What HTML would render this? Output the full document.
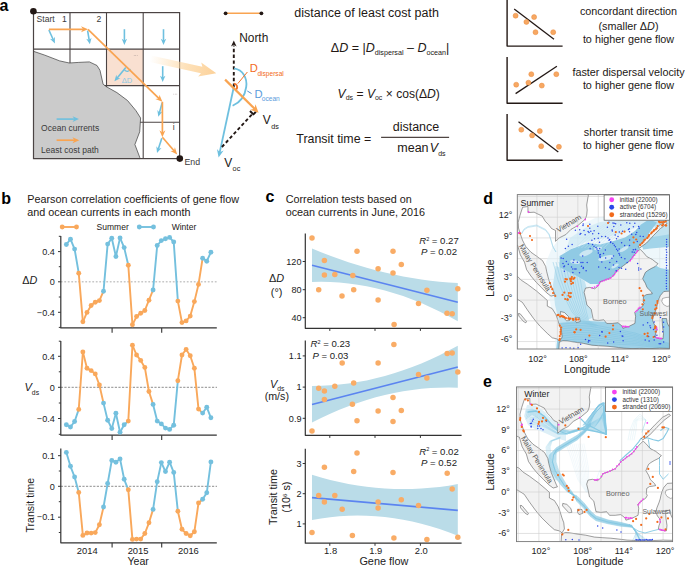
<!DOCTYPE html>
<html><head><meta charset="utf-8"><style>
html,body{margin:0;padding:0;background:#fff;width:685px;height:567px;overflow:hidden}
svg{display:block;font-family:"Liberation Sans", sans-serif}
</style></head><body>
<svg width="685" height="567" viewBox="0 0 685 567">
<text x="-0.60" y="10.60" font-size="16" font-weight="bold" fill="#000">a</text>
<rect x="106.5" y="49.1" width="36.69999999999999" height="36.49999999999999" fill="#F9E0D1"/>
<line x1="70.00" y1="12.60" x2="70.00" y2="158.60" stroke="#4B4444" stroke-width="1.1"/>
<line x1="106.50" y1="12.60" x2="106.50" y2="158.60" stroke="#4B4444" stroke-width="1.1"/>
<line x1="143.20" y1="12.60" x2="143.20" y2="158.60" stroke="#4B4444" stroke-width="1.1"/>
<line x1="33.50" y1="49.10" x2="179.60" y2="49.10" stroke="#4B4444" stroke-width="1.1"/>
<line x1="33.50" y1="85.60" x2="179.60" y2="85.60" stroke="#4B4444" stroke-width="1.1"/>
<line x1="33.50" y1="122.20" x2="179.60" y2="122.20" stroke="#4B4444" stroke-width="1.1"/>
<path d="M33.50,51.30 L44.90,55.20 L59.70,60.90 L69.30,63.00 L78.80,62.40 L89.40,61.90 L97.00,65.50 L100.00,70.40 L103.10,84.20 L106.70,86.90 L116.90,92.60 L127.50,100.50 L135.90,110.60 L140.60,118.00 L139.70,131.80 L134.90,144.50 L139.70,157.20 L140.00,158.60 L33.50,158.60 Z" fill="#CBCBCB" stroke="#3C3C3C" stroke-width="0.7"/>
<rect x="33.5" y="12.6" width="146.1" height="146.0" fill="none" stroke="#4B4444" stroke-width="1.2"/>
<circle cx="33.4" cy="11.2" r="3.3" fill="#231815"/>
<circle cx="179.8" cy="158.6" r="3.3" fill="#231815"/>
<text x="36.60" y="21.60" font-size="8.6" fill="#3a3a3a">Start</text>
<text x="61.90" y="21.60" font-size="8.6" fill="#3a3a3a">1</text>
<text x="96.60" y="21.60" font-size="8.6" fill="#3a3a3a">2</text>
<text x="172.70" y="130.40" font-size="8.6" fill="#3a3a3a">i</text>
<text x="184.40" y="164.60" font-size="8.8" fill="#3a3a3a">End</text>
<circle cx="134.2" cy="55.6" r="0.45" fill="#9a8a8a"/>
<circle cx="135.7" cy="55.6" r="0.45" fill="#9a8a8a"/>
<circle cx="137.2" cy="55.6" r="0.45" fill="#9a8a8a"/>
<circle cx="173.8" cy="94.1" r="0.45" fill="#9a8a8a"/>
<circle cx="175.3" cy="94.1" r="0.45" fill="#9a8a8a"/>
<circle cx="176.8" cy="94.1" r="0.45" fill="#9a8a8a"/>
<line x1="48.90" y1="30.00" x2="53.38" y2="40.00" stroke="#6EC0DF" stroke-width="1.6"/>
<path d="M54.90,43.40 L49.90,38.84 L53.13,39.44 L54.83,36.64 Z" fill="#6EC0DF" stroke="none" stroke-width="0"/>
<line x1="87.60" y1="30.60" x2="89.28" y2="40.63" stroke="#6EC0DF" stroke-width="1.6"/>
<path d="M89.90,44.30 L86.21,38.63 L89.18,40.02 L91.54,37.74 Z" fill="#6EC0DF" stroke="none" stroke-width="0"/>
<line x1="124.40" y1="29.20" x2="124.40" y2="41.18" stroke="#6EC0DF" stroke-width="1.6"/>
<path d="M124.40,44.90 L121.70,38.70 L124.40,40.56 L127.10,38.70 Z" fill="#6EC0DF" stroke="none" stroke-width="0"/>
<line x1="163.50" y1="29.20" x2="163.50" y2="41.18" stroke="#6EC0DF" stroke-width="1.6"/>
<path d="M163.50,44.90 L160.80,38.70 L163.50,40.56 L166.20,38.70 Z" fill="#6EC0DF" stroke="none" stroke-width="0"/>
<line x1="162.70" y1="66.20" x2="162.70" y2="78.18" stroke="#6EC0DF" stroke-width="1.6"/>
<path d="M162.70,81.90 L160.00,75.70 L162.70,77.56 L165.40,75.70 Z" fill="#6EC0DF" stroke="none" stroke-width="0"/>
<line x1="162.20" y1="102.60" x2="159.29" y2="113.21" stroke="#6EC0DF" stroke-width="1.6"/>
<path d="M158.30,116.80 L157.34,110.11 L159.45,112.61 L162.55,111.54 Z" fill="#6EC0DF" stroke="none" stroke-width="0"/>
<line x1="161.80" y1="138.20" x2="158.15" y2="149.46" stroke="#6EC0DF" stroke-width="1.6"/>
<path d="M157.00,153.00 L156.34,146.27 L158.34,148.87 L161.48,147.94 Z" fill="#6EC0DF" stroke="none" stroke-width="0"/>
<line x1="125.80" y1="67.60" x2="116.78" y2="78.44" stroke="#6EC0DF" stroke-width="1.6"/>
<path d="M114.40,81.30 L116.29,74.81 L117.18,77.96 L120.44,78.26 Z" fill="#6EC0DF" stroke="none" stroke-width="0"/>
<path d="M124.2,69.3 A3.2,3.2 0 0 0 130.3,68.8" fill="none" stroke="#6EC0DF" stroke-width="1.3"/>
<text x="121.80" y="83.30" font-size="7.6" fill="#8DC8E4">ΔD</text>
<line x1="48.90" y1="29.30" x2="83.80" y2="29.30" stroke="#F9A451" stroke-width="1.7"/>
<path d="M88.00,29.30 L81.00,32.30 L83.10,29.30 L81.00,26.30 Z" fill="#F9A451" stroke="none" stroke-width="0"/>
<line x1="88.00" y1="29.30" x2="159.39" y2="98.87" stroke="#F9A451" stroke-width="1.7"/>
<path d="M162.40,101.80 L155.29,99.06 L158.89,98.38 L159.48,94.77 Z" fill="#F9A451" stroke="none" stroke-width="0"/>
<line x1="162.40" y1="101.80" x2="162.40" y2="133.10" stroke="#F9A451" stroke-width="1.7"/>
<path d="M162.40,137.30 L159.40,130.30 L162.40,132.40 L165.40,130.30 Z" fill="#F9A451" stroke="none" stroke-width="0"/>
<line x1="162.40" y1="137.30" x2="174.45" y2="151.22" stroke="#F9A451" stroke-width="1.7"/>
<path d="M177.20,154.40 L170.35,151.07 L173.99,150.69 L174.89,147.14 Z" fill="#F9A451" stroke="none" stroke-width="0"/>
<line x1="56.60" y1="119.10" x2="75.10" y2="119.10" stroke="#6EC0DF" stroke-width="1.6"/>
<path d="M79.00,119.10 L72.50,121.90 L74.45,119.10 L72.50,116.30 Z" fill="#6EC0DF" stroke="none" stroke-width="0"/>
<line x1="56.60" y1="140.20" x2="75.20" y2="140.20" stroke="#F9A451" stroke-width="1.7"/>
<path d="M79.40,140.20 L72.40,143.20 L74.50,140.20 L72.40,137.20 Z" fill="#F9A451" stroke="none" stroke-width="0"/>
<text x="41.10" y="130.70" font-size="8.5" fill="#3a3a3a">Ocean currents</text>
<text x="41.10" y="152.50" font-size="8.5" fill="#3a3a3a">Least cost path</text>
<defs><linearGradient id="fat" x1="150" y1="58.8" x2="216" y2="73.2" gradientUnits="userSpaceOnUse"><stop offset="0" stop-color="#FDD7A2" stop-opacity="0"/><stop offset="0.55" stop-color="#FDD7A2" stop-opacity="0.75"/><stop offset="1" stop-color="#FCD199" stop-opacity="1"/></linearGradient></defs>
<path d="M149.79,62.02 L200.94,73.22 L198.15,76.60 L216.30,73.20 L201.23,62.53 L202.35,66.77 L151.21,55.58 Z" fill="url(#fat)" stroke="none" stroke-width="0"/>
<line x1="225.60" y1="13.30" x2="261.40" y2="13.30" stroke="#F9A451" stroke-width="1.5"/>
<circle cx="225.6" cy="13.3" r="1.9" fill="#231815"/><circle cx="261.4" cy="13.3" r="1.9" fill="#231815"/>
<line x1="233.80" y1="87.00" x2="233.80" y2="45.50" stroke="#231815" stroke-width="1.9" stroke-dasharray="3.4,2.4"/>
<path d="M233.80,40.60 L236.60,46.60 L233.80,44.80 L231.00,46.60 Z" fill="#231815" stroke="none" stroke-width="0"/>
<text x="239.20" y="41.90" font-size="11.9" fill="#231815">North</text>
<path d="M234.1,68.4 C243,70 247.5,78 246.2,87 C245,96 240,102.5 232.6,105.8" fill="none" stroke="#6EC0DF" stroke-width="1.8"/>
<line x1="233.80" y1="87.00" x2="219.61" y2="152.91" stroke="#6EC0DF" stroke-width="1.8"/>
<path d="M218.60,157.60 L216.96,149.06 L219.78,152.13 L223.61,150.49 Z" fill="#6EC0DF" stroke="none" stroke-width="0"/>
<line x1="221.90" y1="147.00" x2="252.30" y2="114.10" stroke="#231815" stroke-width="1.9" stroke-dasharray="3.4,2.4"/>
<path d="M250.00,111.00 L253.40,114.40 L255.90,111.80" fill="none" stroke="#231815" stroke-width="2.0" stroke-linejoin="round"/>
<line x1="225.10" y1="79.60" x2="255.11" y2="109.34" stroke="#F9A451" stroke-width="2.2"/>
<path d="M258.60,112.80 L250.10,109.73 L254.52,108.76 L255.45,104.33 Z" fill="#F9A451" stroke="none" stroke-width="0"/>
<path d="M233.9,83.6 A3.5,3.5 0 0 1 236.3,89.4" fill="none" stroke="#F0742A" stroke-width="1.9"/>
<line x1="237.80" y1="83.60" x2="247.40" y2="72.00" stroke="#F0742A" stroke-width="1.0"/>
<line x1="247.30" y1="91.00" x2="251.60" y2="93.60" stroke="#4D8FD4" stroke-width="1.0"/>
<text x="249.70" y="72.00" font-size="11.2" fill="#F26B22">D</text>
<text x="257.40" y="76.00" font-size="6.6" fill="#F26B22">dispersal</text>
<text x="254.50" y="97.50" font-size="11.2" fill="#5A9BDC">D</text>
<text x="261.80" y="101.40" font-size="6.6" fill="#5A9BDC">ocean</text>
<text x="262.80" y="123.90" font-size="12" fill="#231815">V</text>
<text x="271.20" y="128.50" font-size="7.2" fill="#231815">ds</text>
<text x="224.20" y="166.80" font-size="12" fill="#231815">V</text>
<text x="232.60" y="171.40" font-size="7.3" fill="#231815">oc</text>
<text x="294.30" y="17.40" font-size="12.5" fill="#231815">distance of least cost path</text>
<text x="330.8" y="52" font-size="12.5" fill="#231815">Δ<tspan font-style="italic">D</tspan><tspan> = |</tspan><tspan font-style="italic">D</tspan><tspan font-size="7.2" dy="2.6">dispersal</tspan><tspan dy="-2.6"> – </tspan><tspan font-style="italic">D</tspan><tspan font-size="7.2" dy="2.6">ocean</tspan><tspan dy="-2.6">|</tspan></text>
<text x="337.6" y="97.6" font-size="12.1" fill="#231815"><tspan font-style="italic">V</tspan><tspan font-size="7.0" dy="2.6">ds</tspan><tspan dy="-2.6"> = </tspan><tspan font-style="italic">V</tspan><tspan font-size="7.0" dy="2.6">oc</tspan><tspan dy="-2.6"> × cos(Δ</tspan><tspan font-style="italic">D</tspan><tspan>)</tspan></text>
<text x="296.30" y="143.30" font-size="12.4" fill="#231815">Transit time =</text>
<line x1="381.10" y1="137.30" x2="449.10" y2="137.30" stroke="#231815" stroke-width="1.0"/>
<text x="392.70" y="131.00" font-size="12.5" fill="#231815">distance</text>
<text x="397.3" y="152.3" font-size="12.5" fill="#231815">mean<tspan font-style="italic" dx="1.2">V</tspan><tspan font-size="7.0" dy="3.4">ds</tspan></text>
<path d="M507.10,0.00 L507.10,46.10 L562.60,46.10" fill="none" stroke="#231815" stroke-width="1.4" stroke-linejoin="round"/>
<line x1="514.20" y1="9.10" x2="554.00" y2="39.30" stroke="#231815" stroke-width="1.3"/>
<circle cx="515.6" cy="15.7" r="2.5" fill="#F7A863" stroke="#E98A3E" stroke-width="0.5"/>
<circle cx="526.4" cy="21.9" r="2.5" fill="#F7A863" stroke="#E98A3E" stroke-width="0.5"/>
<circle cx="534.1" cy="17.1" r="2.5" fill="#F7A863" stroke="#E98A3E" stroke-width="0.5"/>
<circle cx="535.5" cy="32.2" r="2.5" fill="#F7A863" stroke="#E98A3E" stroke-width="0.5"/>
<circle cx="553.2" cy="32.2" r="2.5" fill="#F7A863" stroke="#E98A3E" stroke-width="0.5"/>
<text x="628.50" y="15.20" font-size="10.8" text-anchor="middle" fill="#231815">concordant direction</text>
<text x="628.50" y="30.20" font-size="10.8" text-anchor="middle" fill="#231815">(smaller Δ<tspan font-style="italic">D</tspan>)</text>
<text x="628.50" y="43.10" font-size="10.8" text-anchor="middle" fill="#231815">to higher gene flow</text>
<path d="M507.10,57.10 L507.10,103.20 L562.60,103.20" fill="none" stroke="#231815" stroke-width="1.4" stroke-linejoin="round"/>
<line x1="515.60" y1="93.60" x2="556.90" y2="66.20" stroke="#231815" stroke-width="1.3"/>
<circle cx="516.2" cy="84.7" r="2.5" fill="#F7A863" stroke="#E98A3E" stroke-width="0.5"/>
<circle cx="528.4" cy="82.7" r="2.5" fill="#F7A863" stroke="#E98A3E" stroke-width="0.5"/>
<circle cx="531.3" cy="74.2" r="2.5" fill="#F7A863" stroke="#E98A3E" stroke-width="0.5"/>
<circle cx="541.8" cy="85.6" r="2.5" fill="#F7A863" stroke="#E98A3E" stroke-width="0.5"/>
<circle cx="556.3" cy="74.2" r="2.5" fill="#F7A863" stroke="#E98A3E" stroke-width="0.5"/>
<text x="628.50" y="76.00" font-size="10.8" text-anchor="middle" fill="#231815">faster dispersal velocity</text>
<text x="628.50" y="89.10" font-size="10.8" text-anchor="middle" fill="#231815">to higher gene flow</text>
<path d="M507.10,114.00 L507.10,160.20 L562.60,160.20" fill="none" stroke="#231815" stroke-width="1.4" stroke-linejoin="round"/>
<line x1="518.50" y1="121.70" x2="558.30" y2="151.90" stroke="#231815" stroke-width="1.3"/>
<circle cx="521.3" cy="129.7" r="2.5" fill="#F7A863" stroke="#E98A3E" stroke-width="0.5"/>
<circle cx="532.1" cy="135.4" r="2.5" fill="#F7A863" stroke="#E98A3E" stroke-width="0.5"/>
<circle cx="539.8" cy="131.1" r="2.5" fill="#F7A863" stroke="#E98A3E" stroke-width="0.5"/>
<circle cx="541.2" cy="146.2" r="2.5" fill="#F7A863" stroke="#E98A3E" stroke-width="0.5"/>
<circle cx="558.9" cy="146.8" r="2.5" fill="#F7A863" stroke="#E98A3E" stroke-width="0.5"/>
<text x="628.50" y="135.70" font-size="10.8" text-anchor="middle" fill="#231815">shorter transit time</text>
<text x="628.50" y="148.60" font-size="10.8" text-anchor="middle" fill="#231815">to higher gene flow</text>
<text x="1.20" y="203.60" font-size="16" font-weight="bold" fill="#000">b</text>
<text x="27.30" y="203.00" font-size="10.8" fill="#231815">Pearson correlation coefficients of gene flow</text>
<text x="27.30" y="215.60" font-size="10.8" fill="#231815">and ocean currents in each month</text>
<line x1="62.20" y1="227.00" x2="76.50" y2="227.00" stroke="#F9A85B" stroke-width="1.9"/>
<circle cx="62.2" cy="227" r="2.45" fill="#F9A85B"/><circle cx="76.5" cy="227" r="2.45" fill="#F9A85B"/>
<text x="96.60" y="229.90" font-size="8.5" fill="#231815">Summer</text>
<line x1="139.30" y1="227.00" x2="153.50" y2="227.00" stroke="#74C0DE" stroke-width="1.9"/>
<circle cx="139.3" cy="227" r="2.45" fill="#74C0DE"/><circle cx="153.5" cy="227" r="2.45" fill="#74C0DE"/>
<text x="171.70" y="230.00" font-size="8.5" fill="#231815">Winter</text>
<line x1="60.80" y1="281.80" x2="217.00" y2="281.80" stroke="#C8C8C8" stroke-width="1.5" stroke-dasharray="1.8,1.7"/>
<path d="M60.80,236.00 L60.80,327.90 L216.80,327.90" fill="none" stroke="#333" stroke-width="1.2" stroke-linejoin="round"/>
<line x1="58.00" y1="251.60" x2="60.80" y2="251.60" stroke="#333" stroke-width="1.0"/>
<line x1="58.00" y1="281.80" x2="60.80" y2="281.80" stroke="#333" stroke-width="1.0"/>
<line x1="58.00" y1="312.30" x2="60.80" y2="312.30" stroke="#333" stroke-width="1.0"/>
<line x1="58.80" y1="236.30" x2="60.80" y2="236.30" stroke="#333" stroke-width="1.0"/>
<line x1="58.80" y1="266.70" x2="60.80" y2="266.70" stroke="#333" stroke-width="1.0"/>
<line x1="58.80" y1="297.00" x2="60.80" y2="297.00" stroke="#333" stroke-width="1.0"/>
<line x1="58.80" y1="327.40" x2="60.80" y2="327.40" stroke="#333" stroke-width="1.0"/>
<line x1="112.10" y1="327.90" x2="112.10" y2="332.70" stroke="#333" stroke-width="1.1"/>
<line x1="161.70" y1="327.90" x2="161.70" y2="332.70" stroke="#333" stroke-width="1.1"/>
<text x="54.80" y="254.80" font-size="9.1" text-anchor="end" fill="#222">0.4</text>
<text x="54.80" y="285.00" font-size="9.1" text-anchor="end" fill="#222">0</text>
<text x="54.80" y="315.50" font-size="9.1" text-anchor="end" fill="#222">−0.4</text>
<line x1="66.35" y1="244.50" x2="70.48" y2="239.20" stroke="#74C0DE" stroke-width="1.9" stroke-linecap="round"/>
<line x1="70.48" y1="239.20" x2="74.61" y2="249.10" stroke="#74C0DE" stroke-width="1.9" stroke-linecap="round"/>
<line x1="74.61" y1="249.10" x2="78.74" y2="273.20" stroke="#74C0DE" stroke-width="1.9" stroke-linecap="round"/>
<line x1="78.74" y1="273.20" x2="82.87" y2="321.80" stroke="#F9A85B" stroke-width="1.9" stroke-linecap="round"/>
<line x1="82.87" y1="321.80" x2="87.00" y2="312.40" stroke="#F9A85B" stroke-width="1.9" stroke-linecap="round"/>
<line x1="87.00" y1="312.40" x2="91.13" y2="305.50" stroke="#F9A85B" stroke-width="1.9" stroke-linecap="round"/>
<line x1="91.13" y1="305.50" x2="95.26" y2="302.30" stroke="#F9A85B" stroke-width="1.9" stroke-linecap="round"/>
<line x1="95.26" y1="302.30" x2="99.39" y2="300.60" stroke="#F9A85B" stroke-width="1.9" stroke-linecap="round"/>
<line x1="99.39" y1="300.60" x2="103.52" y2="291.20" stroke="#F9A85B" stroke-width="1.9" stroke-linecap="round"/>
<line x1="103.52" y1="291.20" x2="107.65" y2="244.10" stroke="#74C0DE" stroke-width="1.9" stroke-linecap="round"/>
<line x1="107.65" y1="244.10" x2="111.78" y2="238.30" stroke="#74C0DE" stroke-width="1.9" stroke-linecap="round"/>
<line x1="111.78" y1="238.30" x2="115.91" y2="256.50" stroke="#74C0DE" stroke-width="1.9" stroke-linecap="round"/>
<line x1="115.91" y1="256.50" x2="120.04" y2="237.90" stroke="#74C0DE" stroke-width="1.9" stroke-linecap="round"/>
<line x1="120.04" y1="237.90" x2="124.17" y2="247.60" stroke="#74C0DE" stroke-width="1.9" stroke-linecap="round"/>
<line x1="124.17" y1="247.60" x2="128.30" y2="265.30" stroke="#74C0DE" stroke-width="1.9" stroke-linecap="round"/>
<line x1="128.30" y1="265.30" x2="132.43" y2="324.80" stroke="#F9A85B" stroke-width="1.9" stroke-linecap="round"/>
<line x1="132.43" y1="324.80" x2="136.56" y2="316.50" stroke="#F9A85B" stroke-width="1.9" stroke-linecap="round"/>
<line x1="136.56" y1="316.50" x2="140.69" y2="313.30" stroke="#F9A85B" stroke-width="1.9" stroke-linecap="round"/>
<line x1="140.69" y1="313.30" x2="144.82" y2="310.50" stroke="#F9A85B" stroke-width="1.9" stroke-linecap="round"/>
<line x1="144.82" y1="310.50" x2="148.95" y2="300.20" stroke="#F9A85B" stroke-width="1.9" stroke-linecap="round"/>
<line x1="148.95" y1="300.20" x2="153.08" y2="290.00" stroke="#F9A85B" stroke-width="1.9" stroke-linecap="round"/>
<line x1="153.08" y1="290.00" x2="157.21" y2="245.50" stroke="#74C0DE" stroke-width="1.9" stroke-linecap="round"/>
<line x1="157.21" y1="245.50" x2="161.34" y2="240.60" stroke="#74C0DE" stroke-width="1.9" stroke-linecap="round"/>
<line x1="161.34" y1="240.60" x2="165.47" y2="238.80" stroke="#74C0DE" stroke-width="1.9" stroke-linecap="round"/>
<line x1="165.47" y1="238.80" x2="169.60" y2="237.40" stroke="#74C0DE" stroke-width="1.9" stroke-linecap="round"/>
<line x1="169.60" y1="237.40" x2="173.73" y2="242.00" stroke="#74C0DE" stroke-width="1.9" stroke-linecap="round"/>
<line x1="173.73" y1="242.00" x2="177.86" y2="301.10" stroke="#74C0DE" stroke-width="1.9" stroke-linecap="round"/>
<line x1="177.86" y1="301.10" x2="181.99" y2="322.60" stroke="#F9A85B" stroke-width="1.9" stroke-linecap="round"/>
<line x1="181.99" y1="322.60" x2="186.12" y2="320.90" stroke="#F9A85B" stroke-width="1.9" stroke-linecap="round"/>
<line x1="186.12" y1="320.90" x2="190.25" y2="316.10" stroke="#F9A85B" stroke-width="1.9" stroke-linecap="round"/>
<line x1="190.25" y1="316.10" x2="194.38" y2="301.60" stroke="#F9A85B" stroke-width="1.9" stroke-linecap="round"/>
<line x1="194.38" y1="301.60" x2="198.51" y2="284.40" stroke="#F9A85B" stroke-width="1.9" stroke-linecap="round"/>
<line x1="198.51" y1="284.40" x2="202.64" y2="258.20" stroke="#F9A85B" stroke-width="1.9" stroke-linecap="round"/>
<line x1="202.64" y1="258.20" x2="206.77" y2="261.20" stroke="#74C0DE" stroke-width="1.9" stroke-linecap="round"/>
<line x1="206.77" y1="261.20" x2="210.90" y2="252.20" stroke="#74C0DE" stroke-width="1.9" stroke-linecap="round"/>
<circle cx="66.35" cy="244.50" r="2.45" fill="#74C0DE"/>
<circle cx="70.48" cy="239.20" r="2.45" fill="#74C0DE"/>
<circle cx="74.61" cy="249.10" r="2.45" fill="#74C0DE"/>
<circle cx="78.74" cy="273.20" r="2.45" fill="#F9A85B"/>
<circle cx="82.87" cy="321.80" r="2.45" fill="#F9A85B"/>
<circle cx="87.00" cy="312.40" r="2.45" fill="#F9A85B"/>
<circle cx="91.13" cy="305.50" r="2.45" fill="#F9A85B"/>
<circle cx="95.26" cy="302.30" r="2.45" fill="#F9A85B"/>
<circle cx="99.39" cy="300.60" r="2.45" fill="#F9A85B"/>
<circle cx="103.52" cy="291.20" r="2.45" fill="#74C0DE"/>
<circle cx="107.65" cy="244.10" r="2.45" fill="#74C0DE"/>
<circle cx="111.78" cy="238.30" r="2.45" fill="#74C0DE"/>
<circle cx="115.91" cy="256.50" r="2.45" fill="#74C0DE"/>
<circle cx="120.04" cy="237.90" r="2.45" fill="#74C0DE"/>
<circle cx="124.17" cy="247.60" r="2.45" fill="#74C0DE"/>
<circle cx="128.30" cy="265.30" r="2.45" fill="#F9A85B"/>
<circle cx="132.43" cy="324.80" r="2.45" fill="#F9A85B"/>
<circle cx="136.56" cy="316.50" r="2.45" fill="#F9A85B"/>
<circle cx="140.69" cy="313.30" r="2.45" fill="#F9A85B"/>
<circle cx="144.82" cy="310.50" r="2.45" fill="#F9A85B"/>
<circle cx="148.95" cy="300.20" r="2.45" fill="#F9A85B"/>
<circle cx="153.08" cy="290.00" r="2.45" fill="#74C0DE"/>
<circle cx="157.21" cy="245.50" r="2.45" fill="#74C0DE"/>
<circle cx="161.34" cy="240.60" r="2.45" fill="#74C0DE"/>
<circle cx="165.47" cy="238.80" r="2.45" fill="#74C0DE"/>
<circle cx="169.60" cy="237.40" r="2.45" fill="#74C0DE"/>
<circle cx="173.73" cy="242.00" r="2.45" fill="#74C0DE"/>
<circle cx="177.86" cy="301.10" r="2.45" fill="#F9A85B"/>
<circle cx="181.99" cy="322.60" r="2.45" fill="#F9A85B"/>
<circle cx="186.12" cy="320.90" r="2.45" fill="#F9A85B"/>
<circle cx="190.25" cy="316.10" r="2.45" fill="#F9A85B"/>
<circle cx="194.38" cy="301.60" r="2.45" fill="#F9A85B"/>
<circle cx="198.51" cy="284.40" r="2.45" fill="#F9A85B"/>
<circle cx="202.64" cy="258.20" r="2.45" fill="#74C0DE"/>
<circle cx="206.77" cy="261.20" r="2.45" fill="#74C0DE"/>
<circle cx="210.90" cy="252.20" r="2.45" fill="#74C0DE"/>
<text x="22.2" y="284.3" font-size="10.8" fill="#222">Δ<tspan font-style="italic">D</tspan></text>
<line x1="60.80" y1="387.30" x2="217.00" y2="387.30" stroke="#707070" stroke-width="0.8" stroke-dasharray="2.2,1.4"/>
<path d="M60.80,341.00 L60.80,435.20 L216.80,435.20" fill="none" stroke="#333" stroke-width="1.2" stroke-linejoin="round"/>
<line x1="58.00" y1="356.30" x2="60.80" y2="356.30" stroke="#333" stroke-width="1.0"/>
<line x1="58.00" y1="387.30" x2="60.80" y2="387.30" stroke="#333" stroke-width="1.0"/>
<line x1="58.00" y1="418.50" x2="60.80" y2="418.50" stroke="#333" stroke-width="1.0"/>
<line x1="58.80" y1="341.20" x2="60.80" y2="341.20" stroke="#333" stroke-width="1.0"/>
<line x1="58.80" y1="371.80" x2="60.80" y2="371.80" stroke="#333" stroke-width="1.0"/>
<line x1="58.80" y1="403.00" x2="60.80" y2="403.00" stroke="#333" stroke-width="1.0"/>
<line x1="58.80" y1="434.30" x2="60.80" y2="434.30" stroke="#333" stroke-width="1.0"/>
<line x1="112.10" y1="435.20" x2="112.10" y2="440.00" stroke="#333" stroke-width="1.1"/>
<line x1="161.70" y1="435.20" x2="161.70" y2="440.00" stroke="#333" stroke-width="1.1"/>
<text x="54.80" y="359.50" font-size="9.1" text-anchor="end" fill="#222">0.4</text>
<text x="54.80" y="390.50" font-size="9.1" text-anchor="end" fill="#222">0</text>
<text x="54.80" y="421.70" font-size="9.1" text-anchor="end" fill="#222">−0.4</text>
<line x1="66.35" y1="424.80" x2="70.48" y2="427.00" stroke="#74C0DE" stroke-width="1.9" stroke-linecap="round"/>
<line x1="70.48" y1="427.00" x2="74.61" y2="421.50" stroke="#74C0DE" stroke-width="1.9" stroke-linecap="round"/>
<line x1="74.61" y1="421.50" x2="78.74" y2="409.40" stroke="#74C0DE" stroke-width="1.9" stroke-linecap="round"/>
<line x1="78.74" y1="409.40" x2="82.87" y2="352.00" stroke="#F9A85B" stroke-width="1.9" stroke-linecap="round"/>
<line x1="82.87" y1="352.00" x2="87.00" y2="368.30" stroke="#F9A85B" stroke-width="1.9" stroke-linecap="round"/>
<line x1="87.00" y1="368.30" x2="91.13" y2="370.60" stroke="#F9A85B" stroke-width="1.9" stroke-linecap="round"/>
<line x1="91.13" y1="370.60" x2="95.26" y2="373.90" stroke="#F9A85B" stroke-width="1.9" stroke-linecap="round"/>
<line x1="95.26" y1="373.90" x2="99.39" y2="385.00" stroke="#F9A85B" stroke-width="1.9" stroke-linecap="round"/>
<line x1="99.39" y1="385.00" x2="103.52" y2="403.10" stroke="#F9A85B" stroke-width="1.9" stroke-linecap="round"/>
<line x1="103.52" y1="403.10" x2="107.65" y2="420.20" stroke="#74C0DE" stroke-width="1.9" stroke-linecap="round"/>
<line x1="107.65" y1="420.20" x2="111.78" y2="428.50" stroke="#74C0DE" stroke-width="1.9" stroke-linecap="round"/>
<line x1="111.78" y1="428.50" x2="115.91" y2="413.30" stroke="#74C0DE" stroke-width="1.9" stroke-linecap="round"/>
<line x1="115.91" y1="413.30" x2="120.04" y2="432.20" stroke="#74C0DE" stroke-width="1.9" stroke-linecap="round"/>
<line x1="120.04" y1="432.20" x2="124.17" y2="424.80" stroke="#74C0DE" stroke-width="1.9" stroke-linecap="round"/>
<line x1="124.17" y1="424.80" x2="128.30" y2="421.10" stroke="#74C0DE" stroke-width="1.9" stroke-linecap="round"/>
<line x1="128.30" y1="421.10" x2="132.43" y2="345.20" stroke="#F9A85B" stroke-width="1.9" stroke-linecap="round"/>
<line x1="132.43" y1="345.20" x2="136.56" y2="355.00" stroke="#F9A85B" stroke-width="1.9" stroke-linecap="round"/>
<line x1="136.56" y1="355.00" x2="140.69" y2="360.40" stroke="#F9A85B" stroke-width="1.9" stroke-linecap="round"/>
<line x1="140.69" y1="360.40" x2="144.82" y2="367.40" stroke="#F9A85B" stroke-width="1.9" stroke-linecap="round"/>
<line x1="144.82" y1="367.40" x2="148.95" y2="391.50" stroke="#F9A85B" stroke-width="1.9" stroke-linecap="round"/>
<line x1="148.95" y1="391.50" x2="153.08" y2="404.40" stroke="#F9A85B" stroke-width="1.9" stroke-linecap="round"/>
<line x1="153.08" y1="404.40" x2="157.21" y2="421.10" stroke="#74C0DE" stroke-width="1.9" stroke-linecap="round"/>
<line x1="157.21" y1="421.10" x2="161.34" y2="423.90" stroke="#74C0DE" stroke-width="1.9" stroke-linecap="round"/>
<line x1="161.34" y1="423.90" x2="165.47" y2="428.10" stroke="#74C0DE" stroke-width="1.9" stroke-linecap="round"/>
<line x1="165.47" y1="428.10" x2="169.60" y2="429.40" stroke="#74C0DE" stroke-width="1.9" stroke-linecap="round"/>
<line x1="169.60" y1="429.40" x2="173.73" y2="425.20" stroke="#74C0DE" stroke-width="1.9" stroke-linecap="round"/>
<line x1="173.73" y1="425.20" x2="177.86" y2="380.70" stroke="#74C0DE" stroke-width="1.9" stroke-linecap="round"/>
<line x1="177.86" y1="380.70" x2="181.99" y2="355.00" stroke="#F9A85B" stroke-width="1.9" stroke-linecap="round"/>
<line x1="181.99" y1="355.00" x2="186.12" y2="349.40" stroke="#F9A85B" stroke-width="1.9" stroke-linecap="round"/>
<line x1="186.12" y1="349.40" x2="190.25" y2="355.70" stroke="#F9A85B" stroke-width="1.9" stroke-linecap="round"/>
<line x1="190.25" y1="355.70" x2="194.38" y2="368.30" stroke="#F9A85B" stroke-width="1.9" stroke-linecap="round"/>
<line x1="194.38" y1="368.30" x2="198.51" y2="409.10" stroke="#F9A85B" stroke-width="1.9" stroke-linecap="round"/>
<line x1="198.51" y1="409.10" x2="202.64" y2="413.10" stroke="#F9A85B" stroke-width="1.9" stroke-linecap="round"/>
<line x1="202.64" y1="413.10" x2="206.77" y2="407.20" stroke="#74C0DE" stroke-width="1.9" stroke-linecap="round"/>
<line x1="206.77" y1="407.20" x2="210.90" y2="417.80" stroke="#74C0DE" stroke-width="1.9" stroke-linecap="round"/>
<circle cx="66.35" cy="424.80" r="2.45" fill="#74C0DE"/>
<circle cx="70.48" cy="427.00" r="2.45" fill="#74C0DE"/>
<circle cx="74.61" cy="421.50" r="2.45" fill="#74C0DE"/>
<circle cx="78.74" cy="409.40" r="2.45" fill="#F9A85B"/>
<circle cx="82.87" cy="352.00" r="2.45" fill="#F9A85B"/>
<circle cx="87.00" cy="368.30" r="2.45" fill="#F9A85B"/>
<circle cx="91.13" cy="370.60" r="2.45" fill="#F9A85B"/>
<circle cx="95.26" cy="373.90" r="2.45" fill="#F9A85B"/>
<circle cx="99.39" cy="385.00" r="2.45" fill="#F9A85B"/>
<circle cx="103.52" cy="403.10" r="2.45" fill="#74C0DE"/>
<circle cx="107.65" cy="420.20" r="2.45" fill="#74C0DE"/>
<circle cx="111.78" cy="428.50" r="2.45" fill="#74C0DE"/>
<circle cx="115.91" cy="413.30" r="2.45" fill="#74C0DE"/>
<circle cx="120.04" cy="432.20" r="2.45" fill="#74C0DE"/>
<circle cx="124.17" cy="424.80" r="2.45" fill="#74C0DE"/>
<circle cx="128.30" cy="421.10" r="2.45" fill="#F9A85B"/>
<circle cx="132.43" cy="345.20" r="2.45" fill="#F9A85B"/>
<circle cx="136.56" cy="355.00" r="2.45" fill="#F9A85B"/>
<circle cx="140.69" cy="360.40" r="2.45" fill="#F9A85B"/>
<circle cx="144.82" cy="367.40" r="2.45" fill="#F9A85B"/>
<circle cx="148.95" cy="391.50" r="2.45" fill="#F9A85B"/>
<circle cx="153.08" cy="404.40" r="2.45" fill="#74C0DE"/>
<circle cx="157.21" cy="421.10" r="2.45" fill="#74C0DE"/>
<circle cx="161.34" cy="423.90" r="2.45" fill="#74C0DE"/>
<circle cx="165.47" cy="428.10" r="2.45" fill="#74C0DE"/>
<circle cx="169.60" cy="429.40" r="2.45" fill="#74C0DE"/>
<circle cx="173.73" cy="425.20" r="2.45" fill="#74C0DE"/>
<circle cx="177.86" cy="380.70" r="2.45" fill="#F9A85B"/>
<circle cx="181.99" cy="355.00" r="2.45" fill="#F9A85B"/>
<circle cx="186.12" cy="349.40" r="2.45" fill="#F9A85B"/>
<circle cx="190.25" cy="355.70" r="2.45" fill="#F9A85B"/>
<circle cx="194.38" cy="368.30" r="2.45" fill="#F9A85B"/>
<circle cx="198.51" cy="409.10" r="2.45" fill="#F9A85B"/>
<circle cx="202.64" cy="413.10" r="2.45" fill="#74C0DE"/>
<circle cx="206.77" cy="407.20" r="2.45" fill="#74C0DE"/>
<circle cx="210.90" cy="417.80" r="2.45" fill="#74C0DE"/>
<text x="24.4" y="391.4" font-size="11.2" fill="#222"><tspan font-style="italic">V</tspan><tspan font-size="6.8" dy="3.7">ds</tspan></text>
<line x1="60.80" y1="486.30" x2="217.00" y2="486.30" stroke="#707070" stroke-width="0.8" stroke-dasharray="2.2,1.4"/>
<path d="M60.80,448.60 L60.80,542.80 L216.80,542.80" fill="none" stroke="#333" stroke-width="1.2" stroke-linejoin="round"/>
<line x1="58.00" y1="455.70" x2="60.80" y2="455.70" stroke="#333" stroke-width="1.0"/>
<line x1="58.00" y1="486.30" x2="60.80" y2="486.30" stroke="#333" stroke-width="1.0"/>
<line x1="58.00" y1="517.20" x2="60.80" y2="517.20" stroke="#333" stroke-width="1.0"/>
<line x1="58.80" y1="471.00" x2="60.80" y2="471.00" stroke="#333" stroke-width="1.0"/>
<line x1="58.80" y1="501.70" x2="60.80" y2="501.70" stroke="#333" stroke-width="1.0"/>
<line x1="58.80" y1="532.50" x2="60.80" y2="532.50" stroke="#333" stroke-width="1.0"/>
<line x1="112.10" y1="542.80" x2="112.10" y2="547.60" stroke="#333" stroke-width="1.1"/>
<line x1="161.70" y1="542.80" x2="161.70" y2="547.60" stroke="#333" stroke-width="1.1"/>
<text x="54.80" y="458.90" font-size="9.1" text-anchor="end" fill="#222">0.1</text>
<text x="54.80" y="489.50" font-size="9.1" text-anchor="end" fill="#222">0</text>
<text x="54.80" y="520.40" font-size="9.1" text-anchor="end" fill="#222">−0.1</text>
<line x1="66.35" y1="452.40" x2="70.48" y2="466.30" stroke="#74C0DE" stroke-width="1.9" stroke-linecap="round"/>
<line x1="70.48" y1="466.30" x2="74.61" y2="477.00" stroke="#74C0DE" stroke-width="1.9" stroke-linecap="round"/>
<line x1="74.61" y1="477.00" x2="78.74" y2="492.40" stroke="#74C0DE" stroke-width="1.9" stroke-linecap="round"/>
<line x1="78.74" y1="492.40" x2="82.87" y2="535.40" stroke="#F9A85B" stroke-width="1.9" stroke-linecap="round"/>
<line x1="82.87" y1="535.40" x2="87.00" y2="533.00" stroke="#F9A85B" stroke-width="1.9" stroke-linecap="round"/>
<line x1="87.00" y1="533.00" x2="91.13" y2="533.10" stroke="#F9A85B" stroke-width="1.9" stroke-linecap="round"/>
<line x1="91.13" y1="533.10" x2="95.26" y2="532.60" stroke="#F9A85B" stroke-width="1.9" stroke-linecap="round"/>
<line x1="95.26" y1="532.60" x2="99.39" y2="524.80" stroke="#F9A85B" stroke-width="1.9" stroke-linecap="round"/>
<line x1="99.39" y1="524.80" x2="103.52" y2="507.00" stroke="#F9A85B" stroke-width="1.9" stroke-linecap="round"/>
<line x1="103.52" y1="507.00" x2="107.65" y2="483.50" stroke="#74C0DE" stroke-width="1.9" stroke-linecap="round"/>
<line x1="107.65" y1="483.50" x2="111.78" y2="460.40" stroke="#74C0DE" stroke-width="1.9" stroke-linecap="round"/>
<line x1="111.78" y1="460.40" x2="115.91" y2="462.20" stroke="#74C0DE" stroke-width="1.9" stroke-linecap="round"/>
<line x1="115.91" y1="462.20" x2="120.04" y2="458.90" stroke="#74C0DE" stroke-width="1.9" stroke-linecap="round"/>
<line x1="120.04" y1="458.90" x2="124.17" y2="479.30" stroke="#74C0DE" stroke-width="1.9" stroke-linecap="round"/>
<line x1="124.17" y1="479.30" x2="128.30" y2="489.80" stroke="#74C0DE" stroke-width="1.9" stroke-linecap="round"/>
<line x1="128.30" y1="489.80" x2="132.43" y2="539.40" stroke="#F9A85B" stroke-width="1.9" stroke-linecap="round"/>
<line x1="132.43" y1="539.40" x2="136.56" y2="539.10" stroke="#F9A85B" stroke-width="1.9" stroke-linecap="round"/>
<line x1="136.56" y1="539.10" x2="140.69" y2="539.10" stroke="#F9A85B" stroke-width="1.9" stroke-linecap="round"/>
<line x1="140.69" y1="539.10" x2="144.82" y2="533.50" stroke="#F9A85B" stroke-width="1.9" stroke-linecap="round"/>
<line x1="144.82" y1="533.50" x2="148.95" y2="522.80" stroke="#F9A85B" stroke-width="1.9" stroke-linecap="round"/>
<line x1="148.95" y1="522.80" x2="153.08" y2="509.40" stroke="#F9A85B" stroke-width="1.9" stroke-linecap="round"/>
<line x1="153.08" y1="509.40" x2="157.21" y2="481.70" stroke="#74C0DE" stroke-width="1.9" stroke-linecap="round"/>
<line x1="157.21" y1="481.70" x2="161.34" y2="462.60" stroke="#74C0DE" stroke-width="1.9" stroke-linecap="round"/>
<line x1="161.34" y1="462.60" x2="165.47" y2="471.50" stroke="#74C0DE" stroke-width="1.9" stroke-linecap="round"/>
<line x1="165.47" y1="471.50" x2="169.60" y2="462.20" stroke="#74C0DE" stroke-width="1.9" stroke-linecap="round"/>
<line x1="169.60" y1="462.20" x2="173.73" y2="472.40" stroke="#74C0DE" stroke-width="1.9" stroke-linecap="round"/>
<line x1="173.73" y1="472.40" x2="177.86" y2="511.30" stroke="#74C0DE" stroke-width="1.9" stroke-linecap="round"/>
<line x1="177.86" y1="511.30" x2="181.99" y2="529.30" stroke="#F9A85B" stroke-width="1.9" stroke-linecap="round"/>
<line x1="181.99" y1="529.30" x2="186.12" y2="533.50" stroke="#F9A85B" stroke-width="1.9" stroke-linecap="round"/>
<line x1="186.12" y1="533.50" x2="190.25" y2="535.70" stroke="#F9A85B" stroke-width="1.9" stroke-linecap="round"/>
<line x1="190.25" y1="535.70" x2="194.38" y2="531.70" stroke="#F9A85B" stroke-width="1.9" stroke-linecap="round"/>
<line x1="194.38" y1="531.70" x2="198.51" y2="503.00" stroke="#F9A85B" stroke-width="1.9" stroke-linecap="round"/>
<line x1="198.51" y1="503.00" x2="202.64" y2="499.30" stroke="#F9A85B" stroke-width="1.9" stroke-linecap="round"/>
<line x1="202.64" y1="499.30" x2="206.77" y2="492.80" stroke="#74C0DE" stroke-width="1.9" stroke-linecap="round"/>
<line x1="206.77" y1="492.80" x2="210.90" y2="461.90" stroke="#74C0DE" stroke-width="1.9" stroke-linecap="round"/>
<circle cx="66.35" cy="452.40" r="2.45" fill="#74C0DE"/>
<circle cx="70.48" cy="466.30" r="2.45" fill="#74C0DE"/>
<circle cx="74.61" cy="477.00" r="2.45" fill="#74C0DE"/>
<circle cx="78.74" cy="492.40" r="2.45" fill="#F9A85B"/>
<circle cx="82.87" cy="535.40" r="2.45" fill="#F9A85B"/>
<circle cx="87.00" cy="533.00" r="2.45" fill="#F9A85B"/>
<circle cx="91.13" cy="533.10" r="2.45" fill="#F9A85B"/>
<circle cx="95.26" cy="532.60" r="2.45" fill="#F9A85B"/>
<circle cx="99.39" cy="524.80" r="2.45" fill="#F9A85B"/>
<circle cx="103.52" cy="507.00" r="2.45" fill="#74C0DE"/>
<circle cx="107.65" cy="483.50" r="2.45" fill="#74C0DE"/>
<circle cx="111.78" cy="460.40" r="2.45" fill="#74C0DE"/>
<circle cx="115.91" cy="462.20" r="2.45" fill="#74C0DE"/>
<circle cx="120.04" cy="458.90" r="2.45" fill="#74C0DE"/>
<circle cx="124.17" cy="479.30" r="2.45" fill="#74C0DE"/>
<circle cx="128.30" cy="489.80" r="2.45" fill="#F9A85B"/>
<circle cx="132.43" cy="539.40" r="2.45" fill="#F9A85B"/>
<circle cx="136.56" cy="539.10" r="2.45" fill="#F9A85B"/>
<circle cx="140.69" cy="539.10" r="2.45" fill="#F9A85B"/>
<circle cx="144.82" cy="533.50" r="2.45" fill="#F9A85B"/>
<circle cx="148.95" cy="522.80" r="2.45" fill="#F9A85B"/>
<circle cx="153.08" cy="509.40" r="2.45" fill="#74C0DE"/>
<circle cx="157.21" cy="481.70" r="2.45" fill="#74C0DE"/>
<circle cx="161.34" cy="462.60" r="2.45" fill="#74C0DE"/>
<circle cx="165.47" cy="471.50" r="2.45" fill="#74C0DE"/>
<circle cx="169.60" cy="462.20" r="2.45" fill="#74C0DE"/>
<circle cx="173.73" cy="472.40" r="2.45" fill="#74C0DE"/>
<circle cx="177.86" cy="511.30" r="2.45" fill="#F9A85B"/>
<circle cx="181.99" cy="529.30" r="2.45" fill="#F9A85B"/>
<circle cx="186.12" cy="533.50" r="2.45" fill="#F9A85B"/>
<circle cx="190.25" cy="535.70" r="2.45" fill="#F9A85B"/>
<circle cx="194.38" cy="531.70" r="2.45" fill="#F9A85B"/>
<circle cx="198.51" cy="503.00" r="2.45" fill="#F9A85B"/>
<circle cx="202.64" cy="499.30" r="2.45" fill="#74C0DE"/>
<circle cx="206.77" cy="492.80" r="2.45" fill="#74C0DE"/>
<circle cx="210.90" cy="461.90" r="2.45" fill="#74C0DE"/>
<text transform="translate(33.6,505.2) rotate(-90)" font-size="10.5" text-anchor="middle" fill="#222">Transit time</text>
<text x="87.30" y="554.30" font-size="9.4" text-anchor="middle" fill="#222">2014</text>
<text x="138.10" y="554.30" font-size="9.4" text-anchor="middle" fill="#222">2015</text>
<text x="188.40" y="554.30" font-size="9.4" text-anchor="middle" fill="#222">2016</text>
<text x="138.10" y="564.60" font-size="10.6" text-anchor="middle" fill="#222">Year</text>
<text x="265.60" y="202.00" font-size="16" font-weight="bold" fill="#000">c</text>
<text x="285.70" y="203.10" font-size="10.8" fill="#231815">Correlation tests based on</text>
<text x="285.70" y="215.60" font-size="10.8" fill="#231815">ocean currents in June, 2016</text>
<path d="M312.00,248.40 L321.11,252.15 L330.23,255.69 L339.34,259.02 L348.45,262.14 L357.56,265.04 L366.68,267.74 L375.79,270.23 L384.90,272.50 L394.01,274.56 L403.12,276.42 L412.24,278.06 L421.35,279.49 L430.46,280.71 L439.58,281.72 L448.69,282.51 L457.80,283.10 L457.80,321.30 L448.69,316.24 L439.58,311.52 L430.46,307.15 L421.35,303.12 L412.24,299.45 L403.12,296.12 L394.01,293.14 L384.90,290.50 L375.79,288.21 L366.68,286.27 L357.56,284.67 L348.45,283.42 L339.34,282.52 L330.23,281.97 L321.11,281.76 L312.00,281.90 Z" fill="#BADCE8" stroke="none" stroke-width="0"/>
<line x1="312.00" y1="265.20" x2="457.80" y2="302.20" stroke="#5B84F0" stroke-width="1.6"/>
<circle cx="312.00" cy="238.00" r="2.75" fill="#F9AC66"/>
<circle cx="324.40" cy="260.60" r="2.75" fill="#F9AC66"/>
<circle cx="324.40" cy="275.00" r="2.75" fill="#F9AC66"/>
<circle cx="334.80" cy="274.40" r="2.75" fill="#F9AC66"/>
<circle cx="318.70" cy="289.80" r="2.75" fill="#F9AC66"/>
<circle cx="342.00" cy="296.10" r="2.75" fill="#F9AC66"/>
<circle cx="352.80" cy="275.40" r="2.75" fill="#F9AC66"/>
<circle cx="353.70" cy="289.80" r="2.75" fill="#F9AC66"/>
<circle cx="357.00" cy="251.30" r="2.75" fill="#F9AC66"/>
<circle cx="378.10" cy="268.70" r="2.75" fill="#F9AC66"/>
<circle cx="378.10" cy="300.00" r="2.75" fill="#F9AC66"/>
<circle cx="393.00" cy="251.30" r="2.75" fill="#F9AC66"/>
<circle cx="393.00" cy="273.00" r="2.75" fill="#F9AC66"/>
<circle cx="394.10" cy="324.40" r="2.75" fill="#F9AC66"/>
<circle cx="401.30" cy="264.60" r="2.75" fill="#F9AC66"/>
<circle cx="426.90" cy="290.20" r="2.75" fill="#F9AC66"/>
<circle cx="457.80" cy="288.70" r="2.75" fill="#F9AC66"/>
<circle cx="418.50" cy="303.50" r="2.75" fill="#F9AC66"/>
<circle cx="447.00" cy="313.30" r="2.75" fill="#F9AC66"/>
<circle cx="452.20" cy="313.70" r="2.75" fill="#F9AC66"/>
<path d="M305.30,233.60 L305.30,328.30 L461.60,328.30" fill="none" stroke="#333" stroke-width="1.2" stroke-linejoin="round"/>
<line x1="302.70" y1="261.50" x2="305.30" y2="261.50" stroke="#333" stroke-width="1.0"/>
<text x="301.50" y="264.70" font-size="9.1" text-anchor="end" fill="#222">120</text>
<line x1="302.70" y1="289.70" x2="305.30" y2="289.70" stroke="#333" stroke-width="1.0"/>
<text x="301.50" y="292.90" font-size="9.1" text-anchor="end" fill="#222">80</text>
<line x1="302.70" y1="317.70" x2="305.30" y2="317.70" stroke="#333" stroke-width="1.0"/>
<text x="301.50" y="320.90" font-size="9.1" text-anchor="end" fill="#222">40</text>
<line x1="329.80" y1="328.30" x2="329.80" y2="330.90" stroke="#333" stroke-width="1.0"/>
<line x1="375.00" y1="328.30" x2="375.00" y2="330.90" stroke="#333" stroke-width="1.0"/>
<line x1="420.40" y1="328.30" x2="420.40" y2="330.90" stroke="#333" stroke-width="1.0"/>
<text x="458.8" y="243.9" font-size="9.6" text-anchor="end" fill="#222"><tspan font-style="italic">R</tspan><tspan font-size="5.5" dy="-3.4">2</tspan><tspan dy="3.4"> = 0.27</tspan></text><text x="457.0" y="255.4" font-size="9.6" text-anchor="end" fill="#222"><tspan font-style="italic">P</tspan> = 0.02</text>
<path d="M312.00,385.90 L321.11,385.78 L330.23,385.34 L339.34,384.58 L348.45,383.50 L357.56,382.10 L366.68,380.39 L375.79,378.35 L384.90,376.00 L394.01,373.33 L403.12,370.34 L412.24,367.03 L421.35,363.40 L430.46,359.45 L439.58,355.19 L448.69,350.60 L457.80,345.70 L457.80,387.80 L448.69,387.58 L439.58,387.69 L430.46,388.11 L421.35,388.85 L412.24,389.91 L403.12,391.29 L394.01,392.98 L384.90,395.00 L375.79,397.33 L366.68,399.99 L357.56,402.96 L348.45,406.25 L339.34,409.86 L330.23,413.79 L321.11,418.03 L312.00,422.60 Z" fill="#BADCE8" stroke="none" stroke-width="0"/>
<line x1="312.00" y1="404.40" x2="457.80" y2="366.90" stroke="#5B84F0" stroke-width="1.6"/>
<circle cx="393.90" cy="344.60" r="2.75" fill="#F9AC66"/>
<circle cx="342.20" cy="363.10" r="2.75" fill="#F9AC66"/>
<circle cx="378.10" cy="363.10" r="2.75" fill="#F9AC66"/>
<circle cx="353.70" cy="383.00" r="2.75" fill="#F9AC66"/>
<circle cx="318.70" cy="388.30" r="2.75" fill="#F9AC66"/>
<circle cx="324.40" cy="390.90" r="2.75" fill="#F9AC66"/>
<circle cx="334.80" cy="386.30" r="2.75" fill="#F9AC66"/>
<circle cx="324.40" cy="399.60" r="2.75" fill="#F9AC66"/>
<circle cx="352.40" cy="404.30" r="2.75" fill="#F9AC66"/>
<circle cx="393.00" cy="397.40" r="2.75" fill="#F9AC66"/>
<circle cx="378.10" cy="410.90" r="2.75" fill="#F9AC66"/>
<circle cx="401.30" cy="410.60" r="2.75" fill="#F9AC66"/>
<circle cx="357.00" cy="420.70" r="2.75" fill="#F9AC66"/>
<circle cx="393.00" cy="421.50" r="2.75" fill="#F9AC66"/>
<circle cx="312.00" cy="430.90" r="2.75" fill="#F9AC66"/>
<circle cx="447.20" cy="353.50" r="2.75" fill="#F9AC66"/>
<circle cx="452.20" cy="353.00" r="2.75" fill="#F9AC66"/>
<circle cx="418.50" cy="374.40" r="2.75" fill="#F9AC66"/>
<circle cx="426.90" cy="378.10" r="2.75" fill="#F9AC66"/>
<circle cx="457.80" cy="372.00" r="2.75" fill="#F9AC66"/>
<path d="M305.30,340.60 L305.30,435.30 L461.60,435.30" fill="none" stroke="#333" stroke-width="1.2" stroke-linejoin="round"/>
<line x1="302.70" y1="355.90" x2="305.30" y2="355.90" stroke="#333" stroke-width="1.0"/>
<text x="301.50" y="359.10" font-size="9.1" text-anchor="end" fill="#222">1.1</text>
<line x1="302.70" y1="387.10" x2="305.30" y2="387.10" stroke="#333" stroke-width="1.0"/>
<text x="301.50" y="390.30" font-size="9.1" text-anchor="end" fill="#222">1</text>
<line x1="302.70" y1="418.30" x2="305.30" y2="418.30" stroke="#333" stroke-width="1.0"/>
<text x="301.50" y="421.50" font-size="9.1" text-anchor="end" fill="#222">0.9</text>
<line x1="329.80" y1="435.30" x2="329.80" y2="437.90" stroke="#333" stroke-width="1.0"/>
<line x1="375.00" y1="435.30" x2="375.00" y2="437.90" stroke="#333" stroke-width="1.0"/>
<line x1="420.40" y1="435.30" x2="420.40" y2="437.90" stroke="#333" stroke-width="1.0"/>
<text x="310.6" y="347.0" font-size="9.6" fill="#222"><tspan font-style="italic">R</tspan><tspan font-size="5.5" dy="-3.4">2</tspan><tspan dy="3.4"> = 0.23</tspan></text><text x="312.4" y="358.7" font-size="9.6" fill="#222"><tspan font-style="italic">P</tspan> = 0.03</text>
<path d="M312.00,474.80 L321.11,477.50 L330.23,479.92 L339.34,482.06 L348.45,483.91 L357.56,485.48 L366.68,486.77 L375.79,487.78 L384.90,488.50 L394.01,488.94 L403.12,489.10 L412.24,488.97 L421.35,488.56 L430.46,487.87 L439.58,486.90 L448.69,485.64 L457.80,484.10 L457.80,535.70 L448.69,532.18 L439.58,528.99 L430.46,526.14 L421.35,523.64 L412.24,521.47 L403.12,519.64 L394.01,518.15 L384.90,517.00 L375.79,516.19 L366.68,515.72 L357.56,515.58 L348.45,515.79 L339.34,516.33 L330.23,517.22 L321.11,518.44 L312.00,520.00 Z" fill="#BADCE8" stroke="none" stroke-width="0"/>
<line x1="312.00" y1="497.60" x2="457.80" y2="510.40" stroke="#5B84F0" stroke-width="1.6"/>
<circle cx="357.00" cy="453.00" r="2.75" fill="#F9AC66"/>
<circle cx="324.40" cy="467.20" r="2.75" fill="#F9AC66"/>
<circle cx="353.70" cy="471.50" r="2.75" fill="#F9AC66"/>
<circle cx="393.00" cy="472.60" r="2.75" fill="#F9AC66"/>
<circle cx="318.70" cy="495.60" r="2.75" fill="#F9AC66"/>
<circle cx="334.80" cy="495.60" r="2.75" fill="#F9AC66"/>
<circle cx="324.40" cy="502.00" r="2.75" fill="#F9AC66"/>
<circle cx="342.20" cy="509.30" r="2.75" fill="#F9AC66"/>
<circle cx="378.10" cy="502.00" r="2.75" fill="#F9AC66"/>
<circle cx="378.10" cy="508.10" r="2.75" fill="#F9AC66"/>
<circle cx="401.30" cy="499.80" r="2.75" fill="#F9AC66"/>
<circle cx="312.00" cy="532.60" r="2.75" fill="#F9AC66"/>
<circle cx="352.40" cy="535.40" r="2.75" fill="#F9AC66"/>
<circle cx="393.90" cy="538.10" r="2.75" fill="#F9AC66"/>
<circle cx="447.20" cy="473.30" r="2.75" fill="#F9AC66"/>
<circle cx="452.20" cy="489.10" r="2.75" fill="#F9AC66"/>
<circle cx="418.50" cy="505.40" r="2.75" fill="#F9AC66"/>
<circle cx="426.90" cy="539.40" r="2.75" fill="#F9AC66"/>
<circle cx="457.80" cy="537.20" r="2.75" fill="#F9AC66"/>
<path d="M305.30,448.70 L305.30,543.20 L461.60,543.20" fill="none" stroke="#333" stroke-width="1.2" stroke-linejoin="round"/>
<line x1="302.70" y1="463.50" x2="305.30" y2="463.50" stroke="#333" stroke-width="1.0"/>
<text x="301.50" y="466.70" font-size="9.1" text-anchor="end" fill="#222">3</text>
<line x1="302.70" y1="493.70" x2="305.30" y2="493.70" stroke="#333" stroke-width="1.0"/>
<text x="301.50" y="496.90" font-size="9.1" text-anchor="end" fill="#222">2</text>
<line x1="302.70" y1="523.90" x2="305.30" y2="523.90" stroke="#333" stroke-width="1.0"/>
<text x="301.50" y="527.10" font-size="9.1" text-anchor="end" fill="#222">1</text>
<line x1="329.80" y1="543.20" x2="329.80" y2="545.80" stroke="#333" stroke-width="1.0"/>
<line x1="375.00" y1="543.20" x2="375.00" y2="545.80" stroke="#333" stroke-width="1.0"/>
<line x1="420.40" y1="543.20" x2="420.40" y2="545.80" stroke="#333" stroke-width="1.0"/>
<text x="458.8" y="454.8" font-size="9.6" text-anchor="end" fill="#222"><tspan font-style="italic">R</tspan><tspan font-size="5.5" dy="-3.4">2</tspan><tspan dy="3.4"> = 0.02</tspan></text><text x="457.0" y="466.3" font-size="9.6" text-anchor="end" fill="#222"><tspan font-style="italic">P</tspan> = 0.52</text>
<text x="330.60" y="554.20" font-size="9.4" text-anchor="middle" fill="#222">1.8</text>
<text x="375.80" y="554.20" font-size="9.4" text-anchor="middle" fill="#222">1.9</text>
<text x="421.20" y="554.20" font-size="9.4" text-anchor="middle" fill="#222">2.0</text>
<text x="383.90" y="565.00" font-size="10.9" text-anchor="middle" fill="#222">Gene flow</text>
<text x="276.6" y="282.3" font-size="10.9" text-anchor="middle" fill="#222">Δ<tspan font-style="italic">D</tspan></text>
<text x="276.60" y="296.00" font-size="10.9" text-anchor="middle" fill="#222">(°)</text>
<text x="270.0" y="387.8" font-size="11" fill="#222"><tspan font-style="italic">V</tspan><tspan font-size="6.8" dy="3.2">ds</tspan></text>
<text x="276.80" y="400.20" font-size="10.7" text-anchor="middle" fill="#222">(m/s)</text>
<text transform="translate(277.0,497.1) rotate(-90)" font-size="10.8" text-anchor="middle" fill="#222">Transit time</text>
<text transform="translate(290.4,497.1) rotate(-90)" font-size="10.8" text-anchor="middle" fill="#222">(10<tspan font-size="6.2" dy="-3.4">6</tspan><tspan dy="3.4"> s)</tspan></text>
<text x="483.20" y="203.80" font-size="16" font-weight="bold" fill="#000">d</text>
<clipPath id="clipd"><rect x="517.3" y="194.6" width="152.10000000000002" height="154.4"/></clipPath>
<clipPath id="landd"><path d="M505.00,185.00 L590.00,185.00 L586.70,205.00 L587.20,210.10 L586.70,215.20 L585.20,219.30 L578.00,225.40 L570.90,229.50 L565.80,234.60 L559.60,237.70 L555.50,241.30 L555.50,230.50 L551.50,228.50 L548.40,224.40 L545.30,221.40 L542.30,216.20 L538.20,214.20 L534.10,212.20 L528.00,212.60 L527.90,206.50 L522.60,207.30 L520.00,215.30 L518.20,222.30 L518.50,228.00 L520.00,232.90 L522.40,240.00 L525.60,246.30 L530.90,252.20 L536.20,255.90 L542.50,260.60 L545.70,266.50 L546.70,271.70 L548.90,280.20 L551.50,286.60 L554.20,292.90 L555.20,295.00 L551.00,296.10 L546.70,292.90 L541.50,287.60 L536.20,282.30 L530.90,276.00 L526.60,269.60 L524.50,262.20 L520.30,254.80 L517.60,245.30 L505.00,240.00 Z M505.00,270.00 L517.60,276.50 L521.30,280.20 L527.70,284.40 L536.20,290.80 L543.60,297.10 L547.30,300.50 L547.30,306.10 L552.20,308.60 L556.00,314.80 L557.80,319.80 L559.70,326.00 L561.50,330.90 L562.10,337.10 L559.70,341.00 L557.20,339.00 L552.20,337.80 L547.30,333.40 L539.80,326.00 L533.60,318.50 L527.40,309.90 L522.40,302.40 L517.60,299.30 L505.00,292.00 Z M558.30,360.00 L559.30,342.20 L563.00,340.60 L567.10,340.90 L574.60,342.10 L583.20,343.30 L591.90,345.20 L600.00,345.80 L608.00,346.30 L616.00,347.20 L624.00,348.20 L632.00,348.60 L640.00,348.40 L650.00,348.60 L660.00,348.20 L672.00,348.50 L672.00,360.00 Z M640.40,249.60 L643.30,252.40 L646.80,256.60 L652.40,259.50 L655.90,262.30 L658.00,263.70 L655.20,266.50 L651.00,268.60 L647.50,270.70 L645.30,272.50 L642.60,278.80 L645.30,283.20 L647.00,287.60 L651.50,292.00 L652.30,293.80 L646.20,294.70 L643.50,296.50 L643.10,301.70 L644.00,303.50 L642.60,306.20 L638.00,309.50 L634.70,312.30 L635.60,316.30 L634.90,323.40 L629.30,326.20 L622.90,328.30 L622.20,326.20 L618.00,322.70 L612.30,323.40 L606.70,323.40 L603.90,319.80 L598.20,320.50 L593.30,319.80 L591.20,309.30 L586.90,305.00 L585.50,298.00 L584.10,292.30 L585.50,288.10 L589.80,287.40 L594.70,288.80 L598.20,286.00 L600.30,281.70 L606.70,279.60 L612.30,276.80 L618.00,269.80 L623.60,265.50 L629.30,261.30 L634.90,254.20 L639.10,250.00 Z M680.00,290.50 L663.80,291.50 L660.30,295.60 L658.50,300.00 L657.50,303.50 L656.80,307.00 L655.50,311.00 L653.50,316.00 L652.50,320.00 L654.00,324.00 L656.30,327.00 L657.00,330.00 L655.50,334.00 L655.00,337.00 L658.00,338.50 L663.00,338.80 L663.50,333.50 L662.50,326.50 L662.00,318.50 L666.50,318.50 L667.30,323.00 L669.00,326.50 L680.00,327.00 Z M638.30,246.50 L645.00,240.00 L652.00,232.50 L659.00,225.50 L665.50,222.00 L667.00,223.50 L660.50,228.50 L653.50,235.50 L646.50,243.00 L639.50,248.00 Z M560.50,311.50 L564.50,312.50 L568.50,316.50 L569.50,320.50 L566.50,320.80 L563.00,317.00 L560.30,314.00 Z M575.20,317.30 L579.50,317.60 L580.20,321.50 L576.50,322.60 L575.00,320.20 Z M518.50,313.50 L520.20,313.80 L526.50,321.50 L525.80,322.80 L523.50,321.50 L518.80,316.00 Z "/></clipPath>
<g clip-path="url(#clipd)">
<rect x="517.3" y="194.6" width="152.10000000000002" height="154.4" fill="#fff"/>
<line x1="516.44" y1="194.60" x2="516.44" y2="349.00" stroke="#CFCFCF" stroke-width="0.6"/>
<line x1="536.90" y1="194.60" x2="536.90" y2="349.00" stroke="#CFCFCF" stroke-width="0.6"/>
<line x1="557.36" y1="194.60" x2="557.36" y2="349.00" stroke="#CFCFCF" stroke-width="0.6"/>
<line x1="577.82" y1="194.60" x2="577.82" y2="349.00" stroke="#CFCFCF" stroke-width="0.6"/>
<line x1="598.28" y1="194.60" x2="598.28" y2="349.00" stroke="#CFCFCF" stroke-width="0.6"/>
<line x1="618.74" y1="194.60" x2="618.74" y2="349.00" stroke="#CFCFCF" stroke-width="0.6"/>
<line x1="639.20" y1="194.60" x2="639.20" y2="349.00" stroke="#CFCFCF" stroke-width="0.6"/>
<line x1="659.66" y1="194.60" x2="659.66" y2="349.00" stroke="#CFCFCF" stroke-width="0.6"/>
<line x1="517.30" y1="341.56" x2="669.40" y2="341.56" stroke="#CFCFCF" stroke-width="0.6"/>
<line x1="517.30" y1="320.83" x2="669.40" y2="320.83" stroke="#CFCFCF" stroke-width="0.6"/>
<line x1="517.30" y1="300.10" x2="669.40" y2="300.10" stroke="#CFCFCF" stroke-width="0.6"/>
<line x1="517.30" y1="279.37" x2="669.40" y2="279.37" stroke="#CFCFCF" stroke-width="0.6"/>
<line x1="517.30" y1="258.64" x2="669.40" y2="258.64" stroke="#CFCFCF" stroke-width="0.6"/>
<line x1="517.30" y1="237.91" x2="669.40" y2="237.91" stroke="#CFCFCF" stroke-width="0.6"/>
<line x1="517.30" y1="217.18" x2="669.40" y2="217.18" stroke="#CFCFCF" stroke-width="0.6"/>
<line x1="517.30" y1="196.45" x2="669.40" y2="196.45" stroke="#CFCFCF" stroke-width="0.6"/>
<path d="M546.00,262.00 L552.00,248.00 L560.00,238.00 L575.00,228.00 L595.00,218.00 L620.00,214.00 L645.00,213.00 L672.00,212.00 L672.00,352.00 L556.00,352.00 L553.00,320.00 L549.00,295.00 Z" fill="#E2F1F8" fill-opacity="0.6" stroke="none" stroke-width="0"/>
<path d="M570.00,238.00 L585.00,228.00 L600.00,222.00 L620.00,220.00 L640.00,217.00 L650.00,214.00 L672.00,214.00 L672.00,222.00 L650.00,222.00 L640.00,226.00 L625.00,232.00 L605.00,238.00 L585.00,242.00 L565.00,252.00 Z" fill="#C8E6F3" fill-opacity="0.6" stroke="none" stroke-width="0"/>
<path d="M555.50,266.00 L568.00,270.00 L584.70,281.20 L588.00,292.00 L590.30,303.50 L592.00,318.00 L580.00,323.00 L559.60,323.10 L555.00,305.00 L553.00,285.00 Z" fill="#C3E4F2" stroke="none" stroke-width="0"/>
<path d="M640.00,262.00 L650.00,262.00 L660.00,268.00 L672.00,270.00 L672.00,320.00 L655.00,318.00 L640.00,318.00 L636.00,300.00 L641.00,280.00 Z" fill="#9DD2E8" stroke="none" stroke-width="0"/>
<path d="M652.00,220.00 L672.00,219.00 L672.00,236.00 L660.00,236.50 L650.00,238.00 L655.00,228.00 Z" fill="#C2E3F1" stroke="none" stroke-width="0"/>
<path d="M641.90,245.50 L650.80,237.20 L672.00,234.00 L672.00,246.50 L650.80,248.50 L643.20,249.50 Z" fill="#A2D4E9" stroke="none" stroke-width="0"/>
<path d="M559.60,256.10 L570.80,249.20 L587.50,243.00 L600.00,244.50 L612.00,241.50 L625.00,237.50 L635.00,231.00 L641.00,224.50 L646.50,221.00 L652.00,220.50 L657.00,222.50 L650.00,232.00 L645.00,240.00 L641.00,247.00 L637.00,252.00 L630.00,262.00 L620.00,270.00 L612.60,276.00 L600.00,284.00 L590.30,284.00 L576.30,275.70 L559.60,267.30 Z" fill="#90CAE4" stroke="none" stroke-width="0"/>
<path d="M559.00,323.00 L580.00,320.50 L598.70,321.50 L615.00,322.00 L630.00,318.00 L638.00,310.00 L645.00,300.00 L650.00,296.00 L660.00,300.00 L672.00,305.00 L672.00,352.00 L556.00,352.00 Z" fill="#9DD1E8" stroke="none" stroke-width="0"/>
<path d="M521.70,233.00 L524.00,229.00 L528.00,226.50 L536.70,225.00 L545.50,229.40 L549.10,234.00 L551.00,240.00 L553.00,247.00 L556.00,252.00" fill="none" stroke="#9FD4EA" stroke-width="0.7" stroke-linejoin="round" stroke-opacity="0.8"/>
<path d="M521.70,233.90 L524.00,229.90 L528.00,227.40 L536.70,225.90 L545.50,230.30 L549.10,234.90 L551.00,240.45 L553.00,247.00 L556.00,252.00" fill="none" stroke="#9FD4EA" stroke-width="0.7" stroke-linejoin="round" stroke-opacity="0.8"/>
<path d="M553.00,262.00 L558.00,280.00 L565.00,298.00 L572.00,312.00 L580.00,321.00 L592.00,326.00" fill="none" stroke="#8FCBE4" stroke-width="0.7" stroke-linejoin="round" stroke-opacity="0.75"/>
<path d="M556.00,262.00 L560.80,280.00 L567.30,298.00 L573.80,312.00 L581.10,321.00 L592.80,326.00" fill="none" stroke="#8FCBE4" stroke-width="0.7" stroke-linejoin="round" stroke-opacity="0.75"/>
<path d="M559.00,262.00 L563.60,280.00 L569.60,298.00 L575.60,312.00 L582.20,321.00 L593.60,326.00" fill="none" stroke="#8FCBE4" stroke-width="0.7" stroke-linejoin="round" stroke-opacity="0.75"/>
<path d="M562.00,262.00 L566.40,280.00 L571.90,298.00 L577.40,312.00 L583.30,321.00 L594.40,326.00" fill="none" stroke="#8FCBE4" stroke-width="0.7" stroke-linejoin="round" stroke-opacity="0.75"/>
<path d="M565.00,262.00 L569.20,280.00 L574.20,298.00 L579.20,312.00 L584.40,321.00 L595.20,326.00" fill="none" stroke="#8FCBE4" stroke-width="0.7" stroke-linejoin="round" stroke-opacity="0.75"/>
<path d="M568.00,262.00 L572.00,280.00 L576.50,298.00 L581.00,312.00 L585.50,321.00 L596.00,326.00" fill="none" stroke="#8FCBE4" stroke-width="0.7" stroke-linejoin="round" stroke-opacity="0.75"/>
<path d="M571.00,262.00 L574.80,280.00 L578.80,298.00 L582.80,312.00 L586.60,321.00 L596.80,326.00" fill="none" stroke="#8FCBE4" stroke-width="0.7" stroke-linejoin="round" stroke-opacity="0.75"/>
<path d="M574.00,262.00 L577.60,280.00 L581.10,298.00 L584.60,312.00 L587.70,321.00 L597.60,326.00" fill="none" stroke="#8FCBE4" stroke-width="0.7" stroke-linejoin="round" stroke-opacity="0.75"/>
<path d="M577.00,262.00 L580.40,280.00 L583.40,298.00 L586.40,312.00 L588.80,321.00 L598.40,326.00" fill="none" stroke="#8FCBE4" stroke-width="0.7" stroke-linejoin="round" stroke-opacity="0.75"/>
<ellipse cx="586.0" cy="253.0" rx="7" ry="2.6" transform="rotate(-20 586.0 253.0)" fill="#fff" fill-opacity="0.55"/>
<ellipse cx="606.0" cy="258.0" rx="8" ry="2.4" transform="rotate(-15 606.0 258.0)" fill="#fff" fill-opacity="0.55"/>
<ellipse cx="598.0" cy="248.5" rx="4" ry="1.6" transform="rotate(-10 598.0 248.5)" fill="#fff" fill-opacity="0.55"/>
<ellipse cx="575.0" cy="262.0" rx="5" ry="1.8" transform="rotate(10 575.0 262.0)" fill="#fff" fill-opacity="0.55"/>
<ellipse cx="624.0" cy="249.0" rx="5" ry="1.8" transform="rotate(-30 624.0 249.0)" fill="#fff" fill-opacity="0.55"/>
<ellipse cx="615.0" cy="266.0" rx="4" ry="1.5" transform="rotate(-30 615.0 266.0)" fill="#fff" fill-opacity="0.55"/>
<path d="M561.00,324.00 L575.00,323.00 L590.00,324.00 L605.00,327.00 L620.00,330.00 L635.00,333.00 L650.00,338.00 L672.00,344.00" fill="none" stroke="#7FC2DF" stroke-width="0.6" stroke-linejoin="round" stroke-opacity="0.8"/>
<path d="M561.00,326.40 L575.00,325.30 L590.00,326.20 L605.00,329.00 L620.00,331.80 L635.00,334.50 L650.00,339.10 L672.00,344.60" fill="none" stroke="#7FC2DF" stroke-width="0.6" stroke-linejoin="round" stroke-opacity="0.8"/>
<path d="M561.00,328.80 L575.00,327.60 L590.00,328.40 L605.00,331.00 L620.00,333.60 L635.00,336.00 L650.00,340.20 L672.00,345.20" fill="none" stroke="#7FC2DF" stroke-width="0.6" stroke-linejoin="round" stroke-opacity="0.8"/>
<path d="M561.00,331.20 L575.00,329.90 L590.00,330.60 L605.00,333.00 L620.00,335.40 L635.00,337.50 L650.00,341.30 L672.00,345.80" fill="none" stroke="#7FC2DF" stroke-width="0.6" stroke-linejoin="round" stroke-opacity="0.8"/>
<path d="M561.00,333.60 L575.00,332.20 L590.00,332.80 L605.00,335.00 L620.00,337.20 L635.00,339.00 L650.00,342.40 L672.00,346.40" fill="none" stroke="#7FC2DF" stroke-width="0.6" stroke-linejoin="round" stroke-opacity="0.8"/>
<path d="M561.00,336.00 L575.00,334.50 L590.00,335.00 L605.00,337.00 L620.00,339.00 L635.00,340.50 L650.00,343.50 L672.00,347.00" fill="none" stroke="#7FC2DF" stroke-width="0.6" stroke-linejoin="round" stroke-opacity="0.8"/>
<path d="M561.00,338.40 L575.00,336.80 L590.00,337.20 L605.00,339.00 L620.00,340.80 L635.00,342.00 L650.00,344.60 L672.00,347.60" fill="none" stroke="#7FC2DF" stroke-width="0.6" stroke-linejoin="round" stroke-opacity="0.8"/>
<path d="M561.00,340.80 L575.00,339.10 L590.00,339.40 L605.00,341.00 L620.00,342.60 L635.00,343.50 L650.00,345.70 L672.00,348.20" fill="none" stroke="#7FC2DF" stroke-width="0.6" stroke-linejoin="round" stroke-opacity="0.8"/>
<path d="M561.00,343.20 L575.00,341.40 L590.00,341.60 L605.00,343.00 L620.00,344.40 L635.00,345.00 L650.00,346.80 L672.00,348.80" fill="none" stroke="#7FC2DF" stroke-width="0.6" stroke-linejoin="round" stroke-opacity="0.8"/>
<path d="M575.00,248.00 L585.00,238.00 L598.00,228.00 L612.00,220.00" fill="none" stroke="#C4E4F2" stroke-width="0.6" stroke-linejoin="round" stroke-opacity="0.8"/>
<path d="M578.20,248.00 L588.20,238.00 L601.20,228.00 L614.56,220.00" fill="none" stroke="#C4E4F2" stroke-width="0.6" stroke-linejoin="round" stroke-opacity="0.8"/>
<path d="M581.40,248.00 L591.40,238.00 L604.40,228.00 L617.12,220.00" fill="none" stroke="#C4E4F2" stroke-width="0.6" stroke-linejoin="round" stroke-opacity="0.8"/>
<path d="M584.60,248.00 L594.60,238.00 L607.60,228.00 L619.68,220.00" fill="none" stroke="#C4E4F2" stroke-width="0.6" stroke-linejoin="round" stroke-opacity="0.8"/>
<path d="M587.80,248.00 L597.80,238.00 L610.80,228.00 L622.24,220.00" fill="none" stroke="#C4E4F2" stroke-width="0.6" stroke-linejoin="round" stroke-opacity="0.8"/>
<path d="M591.00,248.00 L601.00,238.00 L614.00,228.00 L624.80,220.00" fill="none" stroke="#C4E4F2" stroke-width="0.6" stroke-linejoin="round" stroke-opacity="0.8"/>
<path d="M594.20,248.00 L604.20,238.00 L617.20,228.00 L627.36,220.00" fill="none" stroke="#C4E4F2" stroke-width="0.6" stroke-linejoin="round" stroke-opacity="0.8"/>
<path d="M597.40,248.00 L607.40,238.00 L620.40,228.00 L629.92,220.00" fill="none" stroke="#C4E4F2" stroke-width="0.6" stroke-linejoin="round" stroke-opacity="0.8"/>
<path d="M600.60,248.00 L610.60,238.00 L623.60,228.00 L632.48,220.00" fill="none" stroke="#C4E4F2" stroke-width="0.6" stroke-linejoin="round" stroke-opacity="0.8"/>
<path d="M603.80,248.00 L613.80,238.00 L626.80,228.00 L635.04,220.00" fill="none" stroke="#C4E4F2" stroke-width="0.6" stroke-linejoin="round" stroke-opacity="0.8"/>
<path d="M505.00,185.00 L590.00,185.00 L586.70,205.00 L587.20,210.10 L586.70,215.20 L585.20,219.30 L578.00,225.40 L570.90,229.50 L565.80,234.60 L559.60,237.70 L555.50,241.30 L555.50,230.50 L551.50,228.50 L548.40,224.40 L545.30,221.40 L542.30,216.20 L538.20,214.20 L534.10,212.20 L528.00,212.60 L527.90,206.50 L522.60,207.30 L520.00,215.30 L518.20,222.30 L518.50,228.00 L520.00,232.90 L522.40,240.00 L525.60,246.30 L530.90,252.20 L536.20,255.90 L542.50,260.60 L545.70,266.50 L546.70,271.70 L548.90,280.20 L551.50,286.60 L554.20,292.90 L555.20,295.00 L551.00,296.10 L546.70,292.90 L541.50,287.60 L536.20,282.30 L530.90,276.00 L526.60,269.60 L524.50,262.20 L520.30,254.80 L517.60,245.30 L505.00,240.00 Z M505.00,270.00 L517.60,276.50 L521.30,280.20 L527.70,284.40 L536.20,290.80 L543.60,297.10 L547.30,300.50 L547.30,306.10 L552.20,308.60 L556.00,314.80 L557.80,319.80 L559.70,326.00 L561.50,330.90 L562.10,337.10 L559.70,341.00 L557.20,339.00 L552.20,337.80 L547.30,333.40 L539.80,326.00 L533.60,318.50 L527.40,309.90 L522.40,302.40 L517.60,299.30 L505.00,292.00 Z M558.30,360.00 L559.30,342.20 L563.00,340.60 L567.10,340.90 L574.60,342.10 L583.20,343.30 L591.90,345.20 L600.00,345.80 L608.00,346.30 L616.00,347.20 L624.00,348.20 L632.00,348.60 L640.00,348.40 L650.00,348.60 L660.00,348.20 L672.00,348.50 L672.00,360.00 Z M640.40,249.60 L643.30,252.40 L646.80,256.60 L652.40,259.50 L655.90,262.30 L658.00,263.70 L655.20,266.50 L651.00,268.60 L647.50,270.70 L645.30,272.50 L642.60,278.80 L645.30,283.20 L647.00,287.60 L651.50,292.00 L652.30,293.80 L646.20,294.70 L643.50,296.50 L643.10,301.70 L644.00,303.50 L642.60,306.20 L638.00,309.50 L634.70,312.30 L635.60,316.30 L634.90,323.40 L629.30,326.20 L622.90,328.30 L622.20,326.20 L618.00,322.70 L612.30,323.40 L606.70,323.40 L603.90,319.80 L598.20,320.50 L593.30,319.80 L591.20,309.30 L586.90,305.00 L585.50,298.00 L584.10,292.30 L585.50,288.10 L589.80,287.40 L594.70,288.80 L598.20,286.00 L600.30,281.70 L606.70,279.60 L612.30,276.80 L618.00,269.80 L623.60,265.50 L629.30,261.30 L634.90,254.20 L639.10,250.00 Z M680.00,290.50 L663.80,291.50 L660.30,295.60 L658.50,300.00 L657.50,303.50 L656.80,307.00 L655.50,311.00 L653.50,316.00 L652.50,320.00 L654.00,324.00 L656.30,327.00 L657.00,330.00 L655.50,334.00 L655.00,337.00 L658.00,338.50 L663.00,338.80 L663.50,333.50 L662.50,326.50 L662.00,318.50 L666.50,318.50 L667.30,323.00 L669.00,326.50 L680.00,327.00 Z M638.30,246.50 L645.00,240.00 L652.00,232.50 L659.00,225.50 L665.50,222.00 L667.00,223.50 L660.50,228.50 L653.50,235.50 L646.50,243.00 L639.50,248.00 Z M560.50,311.50 L564.50,312.50 L568.50,316.50 L569.50,320.50 L566.50,320.80 L563.00,317.00 L560.30,314.00 Z M575.20,317.30 L579.50,317.60 L580.20,321.50 L576.50,322.60 L575.00,320.20 Z M518.50,313.50 L520.20,313.80 L526.50,321.50 L525.80,322.80 L523.50,321.50 L518.80,316.00 Z " fill="#F2F2F2" stroke="#404040" stroke-width="0.5"/>
<g clip-path="url(#landd)">
<line x1="516.44" y1="194.60" x2="516.44" y2="349.00" stroke="#CFCFCF" stroke-width="0.6"/>
<line x1="536.90" y1="194.60" x2="536.90" y2="349.00" stroke="#CFCFCF" stroke-width="0.6"/>
<line x1="557.36" y1="194.60" x2="557.36" y2="349.00" stroke="#CFCFCF" stroke-width="0.6"/>
<line x1="577.82" y1="194.60" x2="577.82" y2="349.00" stroke="#CFCFCF" stroke-width="0.6"/>
<line x1="598.28" y1="194.60" x2="598.28" y2="349.00" stroke="#CFCFCF" stroke-width="0.6"/>
<line x1="618.74" y1="194.60" x2="618.74" y2="349.00" stroke="#CFCFCF" stroke-width="0.6"/>
<line x1="639.20" y1="194.60" x2="639.20" y2="349.00" stroke="#CFCFCF" stroke-width="0.6"/>
<line x1="659.66" y1="194.60" x2="659.66" y2="349.00" stroke="#CFCFCF" stroke-width="0.6"/>
<line x1="517.30" y1="341.56" x2="669.40" y2="341.56" stroke="#CFCFCF" stroke-width="0.6"/>
<line x1="517.30" y1="320.83" x2="669.40" y2="320.83" stroke="#CFCFCF" stroke-width="0.6"/>
<line x1="517.30" y1="300.10" x2="669.40" y2="300.10" stroke="#CFCFCF" stroke-width="0.6"/>
<line x1="517.30" y1="279.37" x2="669.40" y2="279.37" stroke="#CFCFCF" stroke-width="0.6"/>
<line x1="517.30" y1="258.64" x2="669.40" y2="258.64" stroke="#CFCFCF" stroke-width="0.6"/>
<line x1="517.30" y1="237.91" x2="669.40" y2="237.91" stroke="#CFCFCF" stroke-width="0.6"/>
<line x1="517.30" y1="217.18" x2="669.40" y2="217.18" stroke="#CFCFCF" stroke-width="0.6"/>
<line x1="517.30" y1="196.45" x2="669.40" y2="196.45" stroke="#CFCFCF" stroke-width="0.6"/>
</g>
<path d="M662.50,298.50 L666.00,297.50 L672.00,297.00 L672.00,305.00 L667.00,306.50 L663.50,304.50 L661.80,301.50 Z" fill="#FFFFFF" stroke="#5a5a5a" stroke-width="0.45"/>
</g>
<g clip-path="url(#clipd)">
<g fill="#F542F0"><circle cx="592.2" cy="287.8" r="0.9"/><circle cx="594.6" cy="287.1" r="0.9"/><circle cx="597.1" cy="286.0" r="0.9"/><circle cx="598.3" cy="285.2" r="0.9"/><circle cx="599.6" cy="282.5" r="0.9"/><circle cx="601.9" cy="281.3" r="0.9"/><circle cx="604.1" cy="280.5" r="0.9"/><circle cx="606.3" cy="279.5" r="0.9"/><circle cx="608.5" cy="279.1" r="0.9"/><circle cx="610.6" cy="277.9" r="0.9"/><circle cx="612.8" cy="276.1" r="0.9"/><circle cx="614.4" cy="274.6" r="0.9"/><circle cx="615.5" cy="272.3" r="0.9"/><circle cx="617.5" cy="270.7" r="0.9"/><circle cx="630.2" cy="260.7" r="0.9"/><circle cx="631.7" cy="258.8" r="0.9"/><circle cx="632.9" cy="256.8" r="0.9"/><circle cx="634.5" cy="255.0" r="0.9"/><circle cx="636.4" cy="252.6" r="0.9"/><circle cx="637.4" cy="250.9" r="0.9"/><circle cx="622.6" cy="326.5" r="0.9"/><circle cx="623.9" cy="326.4" r="0.9"/><circle cx="625.4" cy="326.5" r="0.9"/><circle cx="626.9" cy="326.6" r="0.9"/><circle cx="628.6" cy="326.8" r="0.9"/><circle cx="635.7" cy="311.6" r="0.9"/><circle cx="637.2" cy="310.3" r="0.9"/><circle cx="638.5" cy="308.3" r="0.9"/><circle cx="640.0" cy="307.4" r="0.9"/><circle cx="656.6" cy="337.7" r="0.9"/><circle cx="658.1" cy="337.8" r="0.9"/><circle cx="659.8" cy="338.4" r="0.9"/><circle cx="661.1" cy="338.4" r="0.9"/><circle cx="656.5" cy="327.5" r="0.9"/><circle cx="656.8" cy="329.5" r="0.9"/><circle cx="528.6" cy="212.0" r="0.9"/><circle cx="585.2" cy="219.5" r="0.9"/><circle cx="577.3" cy="226.3" r="0.9"/><circle cx="518.6" cy="233.0" r="0.9"/><circle cx="519.8" cy="232.6" r="0.9"/></g>
<g fill="#2A46E8"><circle cx="633.3" cy="249.7" r="0.75"/><circle cx="572.1" cy="244.4" r="0.75"/><circle cx="597.8" cy="226.2" r="0.75"/><circle cx="588.5" cy="243.5" r="0.75"/><circle cx="634.8" cy="223.2" r="0.75"/><circle cx="614.2" cy="223.3" r="0.75"/><circle cx="622.5" cy="231.3" r="0.75"/><circle cx="635.5" cy="249.5" r="0.75"/><circle cx="605.4" cy="250.0" r="0.75"/><circle cx="589.8" cy="224.2" r="0.75"/><circle cx="613.0" cy="222.9" r="0.75"/><circle cx="580.8" cy="233.4" r="0.75"/><circle cx="613.8" cy="226.4" r="0.75"/><circle cx="568.4" cy="246.3" r="0.75"/><circle cx="590.1" cy="248.8" r="0.75"/><circle cx="636.7" cy="232.6" r="0.75"/><circle cx="601.8" cy="236.6" r="0.75"/><circle cx="616.5" cy="238.7" r="0.75"/><circle cx="609.7" cy="239.4" r="0.75"/><circle cx="640.2" cy="236.2" r="0.75"/><circle cx="599.5" cy="242.2" r="0.75"/><circle cx="584.0" cy="230.4" r="0.75"/><circle cx="643.2" cy="236.6" r="0.75"/><circle cx="608.9" cy="222.3" r="0.75"/><circle cx="598.2" cy="238.2" r="0.75"/><circle cx="566.6" cy="239.2" r="0.75"/><circle cx="615.6" cy="223.7" r="0.75"/><circle cx="615.2" cy="235.1" r="0.75"/><circle cx="619.3" cy="231.9" r="0.75"/><circle cx="621.6" cy="242.7" r="0.75"/><circle cx="566.8" cy="223.7" r="0.75"/><circle cx="619.1" cy="249.0" r="0.75"/><circle cx="585.1" cy="234.8" r="0.75"/><circle cx="612.4" cy="231.0" r="0.75"/><circle cx="594.1" cy="230.8" r="0.75"/><circle cx="594.5" cy="238.7" r="0.75"/><circle cx="589.0" cy="232.6" r="0.75"/><circle cx="626.8" cy="222.8" r="0.75"/><circle cx="610.5" cy="242.6" r="0.75"/><circle cx="589.8" cy="228.2" r="0.75"/><circle cx="629.3" cy="228.7" r="0.75"/><circle cx="580.0" cy="234.2" r="0.75"/><circle cx="620.8" cy="224.9" r="0.75"/><circle cx="590.8" cy="231.3" r="0.75"/><circle cx="631.7" cy="234.3" r="0.75"/><circle cx="633.4" cy="226.7" r="0.75"/><circle cx="591.9" cy="240.2" r="0.75"/><circle cx="635.8" cy="234.6" r="0.75"/><circle cx="583.0" cy="225.4" r="0.75"/><circle cx="607.4" cy="227.3" r="0.75"/><circle cx="629.5" cy="245.5" r="0.75"/><circle cx="579.7" cy="229.8" r="0.75"/><circle cx="629.6" cy="240.0" r="0.75"/><circle cx="629.5" cy="231.7" r="0.75"/><circle cx="575.4" cy="230.2" r="0.75"/><circle cx="628.5" cy="229.6" r="0.75"/><circle cx="592.7" cy="233.7" r="0.75"/><circle cx="598.6" cy="233.5" r="0.75"/><circle cx="638.6" cy="226.4" r="0.75"/><circle cx="565.4" cy="248.4" r="0.75"/><circle cx="635.4" cy="249.6" r="0.75"/><circle cx="599.7" cy="248.6" r="0.75"/><circle cx="639.2" cy="228.2" r="0.75"/><circle cx="624.6" cy="245.4" r="0.75"/><circle cx="618.0" cy="236.5" r="0.75"/><circle cx="588.1" cy="231.5" r="0.75"/><circle cx="583.2" cy="223.9" r="0.75"/><circle cx="612.1" cy="230.0" r="0.75"/><circle cx="629.8" cy="223.3" r="0.75"/><circle cx="637.3" cy="241.4" r="0.75"/><circle cx="638.6" cy="269.9" r="0.75"/><circle cx="637.6" cy="263.5" r="0.75"/><circle cx="598.6" cy="266.9" r="0.75"/><circle cx="605.6" cy="258.0" r="0.75"/><circle cx="627.2" cy="262.5" r="0.75"/><circle cx="616.2" cy="270.8" r="0.75"/><circle cx="624.9" cy="258.8" r="0.75"/><circle cx="609.1" cy="269.2" r="0.75"/><circle cx="619.0" cy="267.6" r="0.75"/><circle cx="613.5" cy="255.9" r="0.75"/><circle cx="621.5" cy="268.3" r="0.75"/><circle cx="605.5" cy="267.8" r="0.75"/><circle cx="638.6" cy="268.1" r="0.75"/><circle cx="634.2" cy="252.2" r="0.75"/><circle cx="625.7" cy="269.3" r="0.75"/><circle cx="600.2" cy="257.4" r="0.75"/><circle cx="609.8" cy="262.5" r="0.75"/><circle cx="616.6" cy="261.5" r="0.75"/><circle cx="632.2" cy="252.0" r="0.75"/><circle cx="600.4" cy="254.5" r="0.75"/><circle cx="603.5" cy="253.4" r="0.75"/><circle cx="640.9" cy="269.1" r="0.75"/><circle cx="601.8" cy="262.0" r="0.75"/><circle cx="611.9" cy="258.3" r="0.75"/><circle cx="613.5" cy="264.9" r="0.75"/><circle cx="577.4" cy="262.2" r="0.75"/><circle cx="566.4" cy="261.6" r="0.75"/><circle cx="564.5" cy="266.1" r="0.75"/><circle cx="581.0" cy="262.6" r="0.75"/><circle cx="563.2" cy="258.6" r="0.75"/><circle cx="571.5" cy="267.1" r="0.75"/><circle cx="582.9" cy="262.6" r="0.75"/><circle cx="583.4" cy="267.5" r="0.75"/><circle cx="573.1" cy="262.4" r="0.75"/><circle cx="574.9" cy="269.1" r="0.75"/><circle cx="572.8" cy="268.9" r="0.75"/><circle cx="573.9" cy="259.9" r="0.75"/><circle cx="576.0" cy="268.9" r="0.75"/><circle cx="563.0" cy="263.5" r="0.75"/><circle cx="572.9" cy="272.6" r="0.75"/><circle cx="587.2" cy="262.5" r="0.75"/><circle cx="586.1" cy="270.8" r="0.75"/><circle cx="568.3" cy="264.3" r="0.75"/><circle cx="564.4" cy="271.3" r="0.75"/><circle cx="579.5" cy="272.7" r="0.75"/><circle cx="583.2" cy="268.4" r="0.75"/><circle cx="581.5" cy="266.3" r="0.75"/><circle cx="563.9" cy="266.8" r="0.75"/><circle cx="561.1" cy="257.9" r="0.75"/><circle cx="582.7" cy="255.9" r="0.75"/><circle cx="605.5" cy="236.4" r="0.75"/><circle cx="608.0" cy="238.0" r="0.75"/><circle cx="609.0" cy="240.2" r="0.75"/><circle cx="610.8" cy="241.7" r="0.75"/><circle cx="612.9" cy="243.5" r="0.75"/><circle cx="614.3" cy="245.2" r="0.75"/><circle cx="615.4" cy="246.7" r="0.75"/><circle cx="616.6" cy="249.2" r="0.75"/><circle cx="617.7" cy="250.8" r="0.75"/><circle cx="619.0" cy="253.6" r="0.75"/><circle cx="619.6" cy="254.9" r="0.75"/><circle cx="621.4" cy="257.4" r="0.75"/><circle cx="592.5" cy="244.4" r="0.75"/><circle cx="594.0" cy="246.3" r="0.75"/><circle cx="596.0" cy="247.6" r="0.75"/><circle cx="597.0" cy="249.1" r="0.75"/><circle cx="598.1" cy="250.8" r="0.75"/><circle cx="598.3" cy="252.9" r="0.75"/><circle cx="599.7" cy="254.9" r="0.75"/><circle cx="600.0" cy="256.6" r="0.75"/><circle cx="666.6" cy="239.4" r="0.75"/><circle cx="666.6" cy="241.9" r="0.75"/><circle cx="666.5" cy="244.6" r="0.75"/><circle cx="666.7" cy="247.0" r="0.75"/><circle cx="666.3" cy="249.8" r="0.75"/><circle cx="666.7" cy="252.3" r="0.75"/><circle cx="666.5" cy="255.0" r="0.75"/><circle cx="666.4" cy="257.4" r="0.75"/><circle cx="666.4" cy="260.1" r="0.75"/><circle cx="666.4" cy="262.6" r="0.75"/><circle cx="666.6" cy="265.5" r="0.75"/><circle cx="666.4" cy="268.0" r="0.75"/><circle cx="666.5" cy="270.6" r="0.75"/><circle cx="666.5" cy="273.0" r="0.75"/><circle cx="666.4" cy="275.5" r="0.75"/><circle cx="666.5" cy="278.3" r="0.75"/><circle cx="666.4" cy="280.8" r="0.75"/><circle cx="666.4" cy="283.6" r="0.75"/><circle cx="666.4" cy="286.3" r="0.75"/><circle cx="666.5" cy="288.7" r="0.75"/><circle cx="654.2" cy="340.0" r="0.75"/><circle cx="662.7" cy="331.7" r="0.75"/><circle cx="654.6" cy="336.6" r="0.75"/><circle cx="663.6" cy="327.0" r="0.75"/><circle cx="660.6" cy="343.8" r="0.75"/><circle cx="654.2" cy="321.9" r="0.75"/><circle cx="648.6" cy="336.5" r="0.75"/><circle cx="659.2" cy="343.8" r="0.75"/><circle cx="663.5" cy="322.3" r="0.75"/><circle cx="647.6" cy="322.8" r="0.75"/><circle cx="647.5" cy="336.1" r="0.75"/><circle cx="663.6" cy="342.0" r="0.75"/><circle cx="649.1" cy="341.0" r="0.75"/><circle cx="650.5" cy="327.7" r="0.75"/><circle cx="660.5" cy="317.6" r="0.75"/><circle cx="645.2" cy="340.0" r="0.75"/><circle cx="650.0" cy="325.7" r="0.75"/><circle cx="656.9" cy="335.3" r="0.75"/><circle cx="643.2" cy="325.0" r="0.75"/><circle cx="653.5" cy="329.6" r="0.75"/><circle cx="585.5" cy="339.4" r="0.75"/><circle cx="622.8" cy="336.3" r="0.75"/><circle cx="602.2" cy="331.9" r="0.75"/><circle cx="588.7" cy="340.6" r="0.75"/><circle cx="580.6" cy="344.2" r="0.75"/><circle cx="620.4" cy="331.6" r="0.75"/><circle cx="622.1" cy="336.0" r="0.75"/><circle cx="613.6" cy="342.1" r="0.75"/><circle cx="589.8" cy="340.8" r="0.75"/><circle cx="607.7" cy="342.9" r="0.75"/><circle cx="588.3" cy="342.1" r="0.75"/><circle cx="623.1" cy="340.8" r="0.75"/><circle cx="601.8" cy="331.8" r="0.75"/><circle cx="599.7" cy="335.6" r="0.75"/><circle cx="562.1" cy="348.1" r="0.75"/><circle cx="566.0" cy="347.8" r="0.75"/><circle cx="570.1" cy="348.1" r="0.75"/><circle cx="573.8" cy="348.2" r="0.75"/><circle cx="578.1" cy="347.8" r="0.75"/></g>
<g fill="#F26A1B"><circle cx="640.1" cy="245.1" r="1.1"/><circle cx="640.5" cy="244.6" r="1.1"/><circle cx="642.2" cy="243.1" r="1.1"/><circle cx="643.5" cy="241.7" r="1.1"/><circle cx="644.3" cy="240.0" r="1.1"/><circle cx="645.2" cy="239.5" r="1.1"/><circle cx="647.3" cy="237.9" r="1.1"/><circle cx="648.5" cy="236.4" r="1.1"/><circle cx="649.1" cy="235.1" r="1.1"/><circle cx="651.2" cy="233.3" r="1.1"/><circle cx="651.9" cy="232.3" r="1.1"/><circle cx="653.5" cy="231.2" r="1.1"/><circle cx="654.2" cy="230.0" r="1.1"/><circle cx="655.8" cy="229.3" r="1.1"/><circle cx="656.8" cy="228.2" r="1.1"/><circle cx="657.7" cy="226.1" r="1.1"/><circle cx="659.0" cy="221.7" r="1.1"/><circle cx="665.8" cy="225.4" r="1.1"/><circle cx="659.8" cy="222.1" r="1.1"/><circle cx="662.2" cy="225.5" r="1.1"/><circle cx="666.2" cy="225.5" r="1.1"/><circle cx="663.9" cy="221.9" r="1.1"/><circle cx="662.0" cy="222.2" r="1.1"/><circle cx="663.3" cy="224.4" r="1.1"/><circle cx="660.0" cy="222.5" r="1.1"/><circle cx="665.8" cy="221.2" r="1.1"/><circle cx="573.0" cy="282.9" r="1.1"/><circle cx="574.5" cy="277.8" r="1.1"/><circle cx="570.5" cy="279.8" r="1.1"/><circle cx="571.3" cy="283.8" r="1.1"/><circle cx="571.9" cy="277.0" r="1.1"/><circle cx="573.6" cy="278.8" r="1.1"/><circle cx="571.0" cy="281.3" r="1.1"/><circle cx="565.0" cy="281.7" r="1.1"/><circle cx="571.6" cy="278.9" r="1.1"/><circle cx="570.2" cy="278.6" r="1.1"/><circle cx="566.9" cy="279.3" r="1.1"/><circle cx="565.4" cy="279.0" r="1.1"/><circle cx="568.5" cy="295.6" r="1.1"/><circle cx="567.7" cy="299.7" r="1.1"/><circle cx="570.9" cy="293.1" r="1.1"/><circle cx="569.9" cy="297.0" r="1.1"/><circle cx="562.5" cy="294.9" r="1.1"/><circle cx="564.3" cy="292.6" r="1.1"/><circle cx="567.4" cy="299.4" r="1.1"/><circle cx="565.2" cy="299.0" r="1.1"/><circle cx="568.9" cy="293.1" r="1.1"/><circle cx="570.6" cy="296.8" r="1.1"/><circle cx="557.6" cy="315.2" r="1.1"/><circle cx="558.6" cy="314.9" r="1.1"/><circle cx="560.1" cy="316.6" r="1.1"/><circle cx="561.6" cy="316.1" r="1.1"/><circle cx="562.8" cy="316.7" r="1.1"/><circle cx="562.9" cy="316.3" r="1.1"/><circle cx="564.3" cy="317.1" r="1.1"/><circle cx="565.9" cy="318.1" r="1.1"/><circle cx="568.4" cy="318.4" r="1.1"/><circle cx="569.3" cy="318.8" r="1.1"/><circle cx="570.5" cy="318.7" r="1.1"/><circle cx="572.9" cy="318.8" r="1.1"/><circle cx="573.2" cy="320.0" r="1.1"/><circle cx="575.8" cy="319.2" r="1.1"/><circle cx="576.5" cy="319.7" r="1.1"/><circle cx="578.5" cy="319.3" r="1.1"/><circle cx="559.8" cy="325.6" r="1.1"/><circle cx="561.2" cy="327.6" r="1.1"/><circle cx="560.8" cy="329.8" r="1.1"/><circle cx="560.5" cy="331.9" r="1.1"/><circle cx="560.7" cy="334.0" r="1.1"/><circle cx="559.8" cy="336.1" r="1.1"/><circle cx="559.8" cy="338.8" r="1.1"/><circle cx="559.4" cy="340.2" r="1.1"/><circle cx="574.7" cy="332.3" r="1.1"/><circle cx="576.2" cy="329.4" r="1.1"/><circle cx="574.4" cy="332.2" r="1.1"/><circle cx="639.6" cy="288.2" r="1.1"/><circle cx="641.2" cy="290.9" r="1.1"/><circle cx="642.9" cy="295.5" r="1.1"/><circle cx="644.1" cy="300.3" r="1.1"/><circle cx="642.4" cy="304.3" r="1.1"/><circle cx="642.8" cy="309.3" r="1.1"/><circle cx="657.4" cy="301.1" r="1.1"/><circle cx="657.4" cy="303.0" r="1.1"/><circle cx="655.7" cy="305.2" r="1.1"/><circle cx="656.4" cy="308.2" r="1.1"/><circle cx="655.1" cy="309.3" r="1.1"/><circle cx="655.2" cy="313.3" r="1.1"/><circle cx="654.3" cy="313.5" r="1.1"/><circle cx="652.5" cy="315.9" r="1.1"/><circle cx="652.2" cy="318.0" r="1.1"/><circle cx="644.6" cy="333.9" r="1.1"/><circle cx="654.8" cy="328.4" r="1.1"/><circle cx="655.7" cy="331.7" r="1.1"/><circle cx="653.6" cy="337.0" r="1.1"/><circle cx="655.3" cy="326.4" r="1.1"/><circle cx="647.7" cy="333.3" r="1.1"/><circle cx="655.4" cy="327.1" r="1.1"/><circle cx="647.5" cy="336.2" r="1.1"/><circle cx="580.6" cy="329.8" r="1.1"/><circle cx="589.4" cy="335.6" r="1.1"/><circle cx="613.1" cy="325.5" r="1.1"/><circle cx="605.6" cy="336.7" r="1.1"/><circle cx="609.4" cy="333.1" r="1.1"/><circle cx="612.9" cy="329.3" r="1.1"/><circle cx="621.6" cy="233.5" r="1.1"/><circle cx="636.2" cy="239.5" r="1.1"/><circle cx="615.8" cy="232.1" r="1.1"/><circle cx="633.8" cy="242.5" r="1.1"/><circle cx="633.4" cy="237.3" r="1.1"/><circle cx="624.5" cy="231.7" r="1.1"/><circle cx="549.9" cy="283.0" r="1.1"/><circle cx="550.8" cy="286.9" r="1.1"/><circle cx="552.3" cy="289.2" r="1.1"/><circle cx="553.1" cy="293.1" r="1.1"/><circle cx="555.3" cy="296.0" r="1.1"/><circle cx="530.0" cy="236.0" r="1.1"/><circle cx="532.0" cy="240.0" r="1.1"/><circle cx="520.2" cy="233.5" r="1.1"/><circle cx="588.0" cy="226.0" r="1.1"/><circle cx="608.0" cy="223.0" r="1.1"/></g>
</g>
<rect x="517.3" y="194.6" width="152.10000000000002" height="154.4" fill="none" stroke="#777" stroke-width="0.9"/>
<text x="520.60" y="205.60" font-size="8.8" fill="#222">Summer</text>
<text transform="translate(570.2,225.6) rotate(-31.3)" font-size="7.5" text-anchor="middle" fill="#555">Vietnam</text>
<text transform="translate(532.7,269.0) rotate(58.3)" font-size="7.3" text-anchor="middle" fill="#555">Malay Peninsula</text>
<text x="614.80" y="303.80" font-size="7.3" text-anchor="middle" fill="#666">Borneo</text>
<text x="653.50" y="316.20" font-size="7.0" text-anchor="middle" fill="#666">Sulawesi</text>
<text x="512.40" y="217.78" font-size="9.0" text-anchor="end" fill="#222">12°</text>
<text x="512.40" y="238.51" font-size="9.0" text-anchor="end" fill="#222">9°</text>
<text x="512.40" y="259.24" font-size="9.0" text-anchor="end" fill="#222">6°</text>
<text x="512.40" y="279.97" font-size="9.0" text-anchor="end" fill="#222">3°</text>
<text x="512.40" y="300.70" font-size="9.0" text-anchor="end" fill="#222">0°</text>
<text x="512.40" y="321.43" font-size="9.0" text-anchor="end" fill="#222">-3°</text>
<text x="512.40" y="342.16" font-size="9.0" text-anchor="end" fill="#222">-6°</text>
<text x="537.60" y="361.70" font-size="9.1" text-anchor="middle" fill="#222">102°</text>
<text x="578.30" y="361.70" font-size="9.1" text-anchor="middle" fill="#222">108°</text>
<text x="619.80" y="361.70" font-size="9.1" text-anchor="middle" fill="#222">114°</text>
<text x="661.50" y="361.70" font-size="9.1" text-anchor="middle" fill="#222">120°</text>
<text x="587.20" y="373.40" font-size="10.6" text-anchor="middle" fill="#222">Longitude</text>
<text transform="translate(493.6,278.0) rotate(-90)" font-size="10.5" text-anchor="middle" fill="#222">Latitude</text>
<rect x="604.1" y="195.0" width="65.3" height="25.2" fill="#fff" stroke="#555" stroke-width="0.7"/>
<circle cx="611.7" cy="199.8" r="2.45" fill="#F542F0"/>
<text x="619.70" y="201.90" font-size="6.3" fill="#333">initial (22000)</text>
<circle cx="611.7" cy="207.3" r="2.45" fill="#2A46E8"/>
<text x="619.70" y="209.40" font-size="6.3" fill="#333">active (6704)</text>
<circle cx="611.7" cy="214.8" r="2.45" fill="#F26A1B"/>
<text x="619.70" y="216.90" font-size="6.3" fill="#333">stranded (15296)</text>
<text x="483.00" y="386.70" font-size="16" font-weight="bold" fill="#000">e</text>
<clipPath id="clipe"><rect x="516.5" y="386.9" width="156.10000000000002" height="154.70000000000005"/></clipPath>
<clipPath id="lande"><path d="M506.63,376.90 L592.62,376.90 L589.28,396.90 L589.79,402.00 L589.28,407.10 L587.77,411.20 L580.48,417.30 L573.30,421.40 L568.14,426.50 L561.87,429.60 L557.72,433.20 L557.72,422.40 L553.67,420.40 L550.53,416.30 L547.40,413.30 L544.36,408.10 L540.22,406.10 L536.07,404.10 L529.90,404.50 L529.79,398.40 L524.43,399.20 L521.80,407.20 L519.98,414.20 L520.28,419.90 L521.80,424.80 L524.23,431.90 L527.47,438.20 L532.83,444.10 L538.19,447.80 L544.57,452.50 L547.80,458.40 L548.81,463.60 L551.04,472.10 L553.67,478.50 L556.40,484.80 L557.41,486.90 L553.17,488.00 L548.81,484.80 L543.55,479.50 L538.19,474.20 L532.83,467.90 L528.48,461.50 L526.35,454.10 L522.11,446.70 L519.37,437.20 L506.63,431.90 Z M506.63,461.90 L519.37,468.40 L523.12,472.10 L529.59,476.30 L538.19,482.70 L545.68,489.00 L549.42,492.40 L549.42,498.00 L554.38,500.50 L558.22,506.70 L560.05,511.70 L561.97,517.90 L563.79,522.80 L564.40,529.00 L561.97,532.90 L559.44,530.90 L554.38,529.70 L549.42,525.30 L541.83,517.90 L535.56,510.40 L529.29,501.80 L524.23,494.30 L519.37,491.20 L506.63,483.90 Z M560.55,551.90 L561.56,534.10 L565.31,532.50 L569.45,532.80 L577.04,534.00 L585.74,535.20 L594.55,537.10 L602.74,537.70 L610.83,538.20 L618.93,539.10 L627.02,540.10 L635.12,540.50 L643.21,540.30 L653.33,540.50 L663.44,540.10 L675.58,540.40 L675.58,551.90 Z M643.61,441.50 L646.55,444.30 L650.09,448.50 L655.75,451.40 L659.30,454.20 L661.42,455.60 L658.59,458.40 L654.34,460.50 L650.80,462.60 L648.57,464.40 L645.84,470.70 L648.57,475.10 L650.29,479.50 L654.84,483.90 L655.65,485.70 L649.48,486.60 L646.75,488.40 L646.35,493.60 L647.26,495.40 L645.84,498.10 L641.19,501.40 L637.85,504.20 L638.76,508.20 L638.05,515.30 L632.38,518.10 L625.91,520.20 L625.20,518.10 L620.95,514.60 L615.18,515.30 L609.52,515.30 L606.69,511.70 L600.92,512.40 L595.96,511.70 L593.84,501.20 L589.49,496.90 L588.07,489.90 L586.65,484.20 L588.07,480.00 L592.42,479.30 L597.38,480.70 L600.92,477.90 L603.04,473.60 L609.52,471.50 L615.18,468.70 L620.95,461.70 L626.62,457.40 L632.38,453.20 L638.05,446.10 L642.30,441.90 Z M683.68,482.40 L667.29,483.40 L663.75,487.50 L661.93,491.90 L660.91,495.40 L660.21,498.90 L658.89,502.90 L656.87,507.90 L655.86,511.90 L657.37,515.90 L659.70,518.90 L660.41,521.90 L658.89,525.90 L658.39,528.90 L661.42,530.40 L666.48,530.70 L666.99,525.40 L665.97,518.40 L665.47,510.40 L670.02,510.40 L670.83,514.90 L672.55,518.40 L683.68,518.90 Z M641.49,438.40 L648.27,431.90 L655.35,424.40 L662.43,417.40 L669.01,413.90 L670.53,415.40 L663.95,420.40 L656.87,427.40 L649.79,434.90 L642.70,439.90 Z M562.78,503.40 L566.82,504.40 L570.87,508.40 L571.88,512.40 L568.85,512.70 L565.31,508.90 L562.57,505.90 Z M577.65,509.20 L582.00,509.50 L582.71,513.40 L578.96,514.50 L577.45,512.10 Z M520.28,505.40 L522.00,505.70 L528.38,513.40 L527.67,514.70 L525.34,513.40 L520.59,507.90 Z "/></clipPath>
<g clip-path="url(#clipe)">
<rect x="516.5" y="386.9" width="156.10000000000002" height="154.70000000000005" fill="#fff"/>
<line x1="518.20" y1="386.90" x2="518.20" y2="541.60" stroke="#CFCFCF" stroke-width="0.6"/>
<line x1="538.90" y1="386.90" x2="538.90" y2="541.60" stroke="#CFCFCF" stroke-width="0.6"/>
<line x1="559.60" y1="386.90" x2="559.60" y2="541.60" stroke="#CFCFCF" stroke-width="0.6"/>
<line x1="580.30" y1="386.90" x2="580.30" y2="541.60" stroke="#CFCFCF" stroke-width="0.6"/>
<line x1="601.00" y1="386.90" x2="601.00" y2="541.60" stroke="#CFCFCF" stroke-width="0.6"/>
<line x1="621.70" y1="386.90" x2="621.70" y2="541.60" stroke="#CFCFCF" stroke-width="0.6"/>
<line x1="642.40" y1="386.90" x2="642.40" y2="541.60" stroke="#CFCFCF" stroke-width="0.6"/>
<line x1="663.10" y1="386.90" x2="663.10" y2="541.60" stroke="#CFCFCF" stroke-width="0.6"/>
<line x1="516.50" y1="533.46" x2="672.60" y2="533.46" stroke="#CFCFCF" stroke-width="0.6"/>
<line x1="516.50" y1="512.73" x2="672.60" y2="512.73" stroke="#CFCFCF" stroke-width="0.6"/>
<line x1="516.50" y1="492.00" x2="672.60" y2="492.00" stroke="#CFCFCF" stroke-width="0.6"/>
<line x1="516.50" y1="471.27" x2="672.60" y2="471.27" stroke="#CFCFCF" stroke-width="0.6"/>
<line x1="516.50" y1="450.54" x2="672.60" y2="450.54" stroke="#CFCFCF" stroke-width="0.6"/>
<line x1="516.50" y1="429.81" x2="672.60" y2="429.81" stroke="#CFCFCF" stroke-width="0.6"/>
<line x1="516.50" y1="409.08" x2="672.60" y2="409.08" stroke="#CFCFCF" stroke-width="0.6"/>
<line x1="516.50" y1="388.35" x2="672.60" y2="388.35" stroke="#CFCFCF" stroke-width="0.6"/>
<path d="M527.00,405.00 L536.00,405.50 L545.00,412.00 L552.00,419.50 L560.00,425.00 L566.00,431.00 L566.00,441.00 L556.00,438.00 L545.00,433.00 L535.00,429.00 L528.00,425.00 L524.00,416.00 Z" fill="#DDEFF7" stroke="none" stroke-width="0"/>
<path d="M526.00,410.00 L532.00,409.00 L540.00,412.00 L547.00,419.00 L553.00,425.00 L560.00,429.00 L570.00,431.00 L580.00,429.00 L588.00,425.00" fill="none" stroke="#86C9E3" stroke-width="0.55" stroke-linejoin="round" stroke-opacity="0.7" stroke-linecap="round"/>
<path d="M526.00,411.50 L532.00,409.90 L540.00,413.20 L547.00,419.90 L553.00,425.60 L560.00,429.45 L570.00,431.30 L580.00,429.00 L588.00,425.00" fill="none" stroke="#86C9E3" stroke-width="0.55" stroke-linejoin="round" stroke-opacity="0.7" stroke-linecap="round"/>
<path d="M526.00,413.00 L532.00,410.80 L540.00,414.40 L547.00,420.80 L553.00,426.20 L560.00,429.90 L570.00,431.60 L580.00,429.00 L588.00,425.00" fill="none" stroke="#86C9E3" stroke-width="0.55" stroke-linejoin="round" stroke-opacity="0.7" stroke-linecap="round"/>
<path d="M526.00,414.50 L532.00,411.70 L540.00,415.60 L547.00,421.70 L553.00,426.80 L560.00,430.35 L570.00,431.90 L580.00,429.00 L588.00,425.00" fill="none" stroke="#86C9E3" stroke-width="0.55" stroke-linejoin="round" stroke-opacity="0.7" stroke-linecap="round"/>
<path d="M526.00,416.00 L532.00,412.60 L540.00,416.80 L547.00,422.60 L553.00,427.40 L560.00,430.80 L570.00,432.20 L580.00,429.00 L588.00,425.00" fill="none" stroke="#86C9E3" stroke-width="0.55" stroke-linejoin="round" stroke-opacity="0.7" stroke-linecap="round"/>
<path d="M526.00,417.50 L532.00,413.50 L540.00,418.00 L547.00,423.50 L553.00,428.00 L560.00,431.25 L570.00,432.50 L580.00,429.00 L588.00,425.00" fill="none" stroke="#86C9E3" stroke-width="0.55" stroke-linejoin="round" stroke-opacity="0.7" stroke-linecap="round"/>
<path d="M526.00,419.00 L532.00,414.40 L540.00,419.20 L547.00,424.40 L553.00,428.60 L560.00,431.70 L570.00,432.80 L580.00,429.00 L588.00,425.00" fill="none" stroke="#86C9E3" stroke-width="0.55" stroke-linejoin="round" stroke-opacity="0.7" stroke-linecap="round"/>
<path d="M530.00,418.00 L537.00,417.00 L543.00,423.00 L550.00,428.00 L558.00,433.00 L567.00,434.00 L577.00,431.00 L586.00,427.00" fill="none" stroke="#86C9E3" stroke-width="0.5" stroke-linejoin="round" stroke-opacity="0.6" stroke-linecap="round"/>
<path d="M530.00,419.70 L537.00,418.70 L543.00,423.85 L550.00,428.51 L558.00,433.34 L567.00,434.00 L577.00,431.00 L586.00,427.00" fill="none" stroke="#86C9E3" stroke-width="0.5" stroke-linejoin="round" stroke-opacity="0.6" stroke-linecap="round"/>
<path d="M530.00,421.40 L537.00,420.40 L543.00,424.70 L550.00,429.02 L558.00,433.68 L567.00,434.00 L577.00,431.00 L586.00,427.00" fill="none" stroke="#86C9E3" stroke-width="0.5" stroke-linejoin="round" stroke-opacity="0.6" stroke-linecap="round"/>
<path d="M530.00,423.10 L537.00,422.10 L543.00,425.55 L550.00,429.53 L558.00,434.02 L567.00,434.00 L577.00,431.00 L586.00,427.00" fill="none" stroke="#86C9E3" stroke-width="0.5" stroke-linejoin="round" stroke-opacity="0.6" stroke-linecap="round"/>
<path d="M530.00,424.80 L537.00,423.80 L543.00,426.40 L550.00,430.04 L558.00,434.36 L567.00,434.00 L577.00,431.00 L586.00,427.00" fill="none" stroke="#86C9E3" stroke-width="0.5" stroke-linejoin="round" stroke-opacity="0.6" stroke-linecap="round"/>
<path d="M528.00,412.00 L536.00,411.00 L544.00,416.00 L551.00,424.00 L558.00,431.00 L566.00,433.50 L577.00,430.30 L584.70,429.20 L590.00,425.00" fill="none" stroke="#86C9E3" stroke-width="1.3" stroke-linejoin="round" stroke-opacity="1.0" stroke-linecap="round"/>
<path d="M584.00,428.00 L590.00,419.00 L596.00,410.00 L601.00,404.00 L604.50,403.00 L605.50,416.00 L607.00,435.00 L598.00,431.00 L590.00,430.00 Z" fill="#A9D8EB" stroke="none" stroke-width="0" fill-opacity="0.75"/>
<path d="M578.00,428.00 L586.60,429.60 L596.00,431.50 L606.30,433.90" fill="none" stroke="#86C9E3" stroke-width="1.6" stroke-linejoin="round" stroke-opacity="1.0" stroke-linecap="round"/>
<path d="M581.00,419.00 L586.00,424.00 L594.00,428.00 L606.30,434.50" fill="none" stroke="#86C9E3" stroke-width="1.1" stroke-linejoin="round" stroke-opacity="1.0" stroke-linecap="round"/>
<path d="M583.00,425.00 L591.00,415.00 L599.00,405.00 L603.50,403.50 L603.50,416.00 L606.30,434.50" fill="none" stroke="#86C9E3" stroke-width="0.6" stroke-linejoin="round" stroke-opacity="0.8" stroke-linecap="round"/>
<path d="M583.50,425.00 L591.60,414.20 L599.40,404.80 L603.50,403.50 L603.65,416.00 L606.30,434.50" fill="none" stroke="#86C9E3" stroke-width="0.6" stroke-linejoin="round" stroke-opacity="0.8" stroke-linecap="round"/>
<path d="M584.00,425.00 L592.20,413.40 L599.80,404.60 L603.50,403.50 L603.80,416.00 L606.30,434.50" fill="none" stroke="#86C9E3" stroke-width="0.6" stroke-linejoin="round" stroke-opacity="0.8" stroke-linecap="round"/>
<path d="M584.50,425.00 L592.80,412.60 L600.20,404.40 L603.50,403.50 L603.95,416.00 L606.30,434.50" fill="none" stroke="#86C9E3" stroke-width="0.6" stroke-linejoin="round" stroke-opacity="0.8" stroke-linecap="round"/>
<path d="M585.00,425.00 L593.40,411.80 L600.60,404.20 L603.50,403.50 L604.10,416.00 L606.30,434.50" fill="none" stroke="#86C9E3" stroke-width="0.6" stroke-linejoin="round" stroke-opacity="0.8" stroke-linecap="round"/>
<path d="M585.50,425.00 L594.00,411.00 L601.00,404.00 L603.50,403.50 L604.25,416.00 L606.30,434.50" fill="none" stroke="#86C9E3" stroke-width="0.6" stroke-linejoin="round" stroke-opacity="0.8" stroke-linecap="round"/>
<path d="M586.00,425.00 L594.60,410.20 L601.40,403.80 L603.50,403.50 L604.40,416.00 L606.30,434.50" fill="none" stroke="#86C9E3" stroke-width="0.6" stroke-linejoin="round" stroke-opacity="0.8" stroke-linecap="round"/>
<path d="M586.50,425.00 L595.20,409.40 L601.80,403.60 L603.50,403.50 L604.55,416.00 L606.30,434.50" fill="none" stroke="#86C9E3" stroke-width="0.6" stroke-linejoin="round" stroke-opacity="0.8" stroke-linecap="round"/>
<path d="M587.00,425.00 L595.80,408.60 L602.20,403.40 L603.50,403.50 L604.70,416.00 L606.30,434.50" fill="none" stroke="#86C9E3" stroke-width="0.6" stroke-linejoin="round" stroke-opacity="0.8" stroke-linecap="round"/>
<path d="M587.50,425.00 L596.40,407.80 L602.60,403.20 L603.50,403.50 L604.85,416.00 L606.30,434.50" fill="none" stroke="#86C9E3" stroke-width="0.6" stroke-linejoin="round" stroke-opacity="0.8" stroke-linecap="round"/>
<path d="M588.00,425.00 L597.00,407.00 L603.00,403.00 L603.50,403.50 L605.00,416.00 L606.30,434.50" fill="none" stroke="#86C9E3" stroke-width="0.6" stroke-linejoin="round" stroke-opacity="0.8" stroke-linecap="round"/>
<path d="M588.50,425.00 L597.60,406.20 L603.40,402.80 L603.50,403.50 L605.15,416.00 L606.30,434.50" fill="none" stroke="#86C9E3" stroke-width="0.6" stroke-linejoin="round" stroke-opacity="0.8" stroke-linecap="round"/>
<path d="M589.00,425.00 L598.20,405.40 L603.80,402.60 L603.50,403.50 L605.30,416.00 L606.30,434.50" fill="none" stroke="#86C9E3" stroke-width="0.6" stroke-linejoin="round" stroke-opacity="0.8" stroke-linecap="round"/>
<path d="M589.50,425.00 L598.80,404.60 L604.20,402.40 L603.50,403.50 L605.45,416.00 L606.30,434.50" fill="none" stroke="#86C9E3" stroke-width="0.6" stroke-linejoin="round" stroke-opacity="0.8" stroke-linecap="round"/>
<path d="M586.00,426.00 L594.00,428.00 L602.00,418.00 L606.30,434.50" fill="none" stroke="#86C9E3" stroke-width="0.5" stroke-linejoin="round" stroke-opacity="0.6" stroke-linecap="round"/>
<path d="M586.00,426.00 L594.80,426.80 L602.30,417.00 L606.30,434.50" fill="none" stroke="#86C9E3" stroke-width="0.5" stroke-linejoin="round" stroke-opacity="0.6" stroke-linecap="round"/>
<path d="M586.00,426.00 L595.60,425.60 L602.60,416.00 L606.30,434.50" fill="none" stroke="#86C9E3" stroke-width="0.5" stroke-linejoin="round" stroke-opacity="0.6" stroke-linecap="round"/>
<path d="M586.00,426.00 L596.40,424.40 L602.90,415.00 L606.30,434.50" fill="none" stroke="#86C9E3" stroke-width="0.5" stroke-linejoin="round" stroke-opacity="0.6" stroke-linecap="round"/>
<path d="M586.00,426.00 L597.20,423.20 L603.20,414.00 L606.30,434.50" fill="none" stroke="#86C9E3" stroke-width="0.5" stroke-linejoin="round" stroke-opacity="0.6" stroke-linecap="round"/>
<path d="M586.00,426.00 L598.00,422.00 L603.50,413.00 L606.30,434.50" fill="none" stroke="#86C9E3" stroke-width="0.5" stroke-linejoin="round" stroke-opacity="0.6" stroke-linecap="round"/>
<path d="M586.00,426.00 L598.80,420.80 L603.80,412.00 L606.30,434.50" fill="none" stroke="#86C9E3" stroke-width="0.5" stroke-linejoin="round" stroke-opacity="0.6" stroke-linecap="round"/>
<path d="M586.00,426.00 L599.60,419.60 L604.10,411.00 L606.30,434.50" fill="none" stroke="#86C9E3" stroke-width="0.5" stroke-linejoin="round" stroke-opacity="0.6" stroke-linecap="round"/>
<path d="M586.00,426.00 L600.40,418.40 L604.40,410.00 L606.30,434.50" fill="none" stroke="#86C9E3" stroke-width="0.5" stroke-linejoin="round" stroke-opacity="0.6" stroke-linecap="round"/>
<path d="M586.00,426.00 L601.20,417.20 L604.70,409.00 L606.30,434.50" fill="none" stroke="#86C9E3" stroke-width="0.5" stroke-linejoin="round" stroke-opacity="0.6" stroke-linecap="round"/>
<path d="M588.00,423.00 L597.00,411.00 L604.90,402.80" fill="none" stroke="#86C9E3" stroke-width="1.0" stroke-linejoin="round" stroke-opacity="1.0" stroke-linecap="round"/>
<path d="M603.50,403.50 L604.50,418.00 L606.30,434.50" fill="none" stroke="#86C9E3" stroke-width="1.2" stroke-linejoin="round" stroke-opacity="1.0" stroke-linecap="round"/>
<path d="M590.00,423.43 L584.70,429.20 L577.30,435.07 L566.70,441.38 L556.20,447.77 L549.33,455.00 L548.30,462.00 L550.90,470.50 L555.83,478.00 L560.85,485.00 L567.38,492.00 L577.00,495.85 L584.00,502.85 L590.00,510.35 L596.00,515.88 L608.00,519.90 L621.00,522.40 L631.80,525.25" fill="none" stroke="#86C9E3" stroke-width="0.55" stroke-linejoin="round" stroke-opacity="0.7" stroke-linecap="round"/>
<path d="M590.00,423.65 L584.70,429.50 L577.30,435.45 L566.70,441.75 L556.20,448.15 L549.85,455.00 L548.90,462.00 L551.50,470.50 L556.35,478.00 L561.30,485.00 L567.75,492.00 L577.00,496.30 L584.00,503.30 L590.00,510.80 L596.00,516.25 L608.00,520.20 L621.00,522.70 L631.80,525.40" fill="none" stroke="#86C9E3" stroke-width="0.55" stroke-linejoin="round" stroke-opacity="0.7" stroke-linecap="round"/>
<path d="M590.00,423.88 L584.70,429.80 L577.30,435.82 L566.70,442.12 L556.20,448.52 L550.38,455.00 L549.50,462.00 L552.10,470.50 L556.88,478.00 L561.75,485.00 L568.12,492.00 L577.00,496.75 L584.00,503.75 L590.00,511.25 L596.00,516.62 L608.00,520.50 L621.00,523.00 L631.80,525.55" fill="none" stroke="#86C9E3" stroke-width="0.55" stroke-linejoin="round" stroke-opacity="0.7" stroke-linecap="round"/>
<path d="M590.00,424.10 L584.70,430.10 L577.30,436.20 L566.70,442.50 L556.20,448.90 L550.90,455.00 L550.10,462.00 L552.70,470.50 L557.40,478.00 L562.20,485.00 L568.50,492.00 L577.00,497.20 L584.00,504.20 L590.00,511.70 L596.00,517.00 L608.00,520.80 L621.00,523.30 L631.80,525.70" fill="none" stroke="#86C9E3" stroke-width="0.55" stroke-linejoin="round" stroke-opacity="0.7" stroke-linecap="round"/>
<path d="M590.00,424.32 L584.70,430.40 L577.30,436.57 L566.70,442.88 L556.20,449.27 L551.42,455.00 L550.70,462.00 L553.30,470.50 L557.92,478.00 L562.65,485.00 L568.88,492.00 L577.00,497.65 L584.00,504.65 L590.00,512.15 L596.00,517.38 L608.00,521.10 L621.00,523.60 L631.80,525.85" fill="none" stroke="#86C9E3" stroke-width="0.55" stroke-linejoin="round" stroke-opacity="0.7" stroke-linecap="round"/>
<path d="M590.00,424.55 L584.70,430.70 L577.30,436.95 L566.70,443.25 L556.20,449.65 L551.95,455.00 L551.30,462.00 L553.90,470.50 L558.45,478.00 L563.10,485.00 L569.25,492.00 L577.00,498.10 L584.00,505.10 L590.00,512.60 L596.00,517.75 L608.00,521.40 L621.00,523.90 L631.80,526.00" fill="none" stroke="#86C9E3" stroke-width="0.55" stroke-linejoin="round" stroke-opacity="0.7" stroke-linecap="round"/>
<path d="M590.00,424.77 L584.70,431.00 L577.30,437.32 L566.70,443.62 L556.20,450.02 L552.48,455.00 L551.90,462.00 L554.50,470.50 L558.98,478.00 L563.55,485.00 L569.62,492.00 L577.00,498.55 L584.00,505.55 L590.00,513.05 L596.00,518.12 L608.00,521.70 L621.00,524.20 L631.80,526.15" fill="none" stroke="#86C9E3" stroke-width="0.55" stroke-linejoin="round" stroke-opacity="0.7" stroke-linecap="round"/>
<path d="M590.00,425.00 L584.70,431.30 L577.30,437.70 L566.70,444.00 L556.20,450.40 L553.00,455.00 L552.50,462.00 L555.10,470.50 L559.50,478.00 L564.00,485.00 L570.00,492.00 L577.00,499.00 L584.00,506.00 L590.00,513.50 L596.00,518.50 L608.00,522.00 L621.00,524.50 L631.80,526.30" fill="none" stroke="#86C9E3" stroke-width="0.55" stroke-linejoin="round" stroke-opacity="0.7" stroke-linecap="round"/>
<path d="M590.00,425.23 L584.70,431.60 L577.30,438.07 L566.70,444.38 L556.20,450.77 L553.52,455.00 L553.10,462.00 L555.70,470.50 L560.02,478.00 L564.45,485.00 L570.38,492.00 L577.00,499.45 L584.00,506.45 L590.00,513.95 L596.00,518.88 L608.00,522.30 L621.00,524.80 L631.80,526.45" fill="none" stroke="#86C9E3" stroke-width="0.55" stroke-linejoin="round" stroke-opacity="0.7" stroke-linecap="round"/>
<path d="M590.00,425.45 L584.70,431.90 L577.30,438.45 L566.70,444.75 L556.20,451.15 L554.05,455.00 L553.70,462.00 L556.30,470.50 L560.55,478.00 L564.90,485.00 L570.75,492.00 L577.00,499.90 L584.00,506.90 L590.00,514.40 L596.00,519.25 L608.00,522.60 L621.00,525.10 L631.80,526.60" fill="none" stroke="#86C9E3" stroke-width="0.55" stroke-linejoin="round" stroke-opacity="0.7" stroke-linecap="round"/>
<path d="M590.00,425.68 L584.70,432.20 L577.30,438.82 L566.70,445.12 L556.20,451.52 L554.58,455.00 L554.30,462.00 L556.90,470.50 L561.08,478.00 L565.35,485.00 L571.12,492.00 L577.00,500.35 L584.00,507.35 L590.00,514.85 L596.00,519.62 L608.00,522.90 L621.00,525.40 L631.80,526.75" fill="none" stroke="#86C9E3" stroke-width="0.55" stroke-linejoin="round" stroke-opacity="0.7" stroke-linecap="round"/>
<path d="M590.00,425.90 L584.70,432.50 L577.30,439.20 L566.70,445.50 L556.20,451.90 L555.10,455.00 L554.90,462.00 L557.50,470.50 L561.60,478.00 L565.80,485.00 L571.50,492.00 L577.00,500.80 L584.00,507.80 L590.00,515.30 L596.00,520.00 L608.00,523.20 L621.00,525.70 L631.80,526.90" fill="none" stroke="#86C9E3" stroke-width="0.55" stroke-linejoin="round" stroke-opacity="0.7" stroke-linecap="round"/>
<path d="M590.00,426.12 L584.70,432.80 L577.30,439.57 L566.70,445.88 L556.20,452.27 L555.62,455.00 L555.50,462.00 L558.10,470.50 L562.12,478.00 L566.25,485.00 L571.88,492.00 L577.00,501.25 L584.00,508.25 L590.00,515.75 L596.00,520.38 L608.00,523.50 L621.00,526.00 L631.80,527.05" fill="none" stroke="#86C9E3" stroke-width="0.55" stroke-linejoin="round" stroke-opacity="0.7" stroke-linecap="round"/>
<path d="M590.00,426.35 L584.70,433.10 L577.30,439.95 L566.70,446.25 L556.20,452.65 L556.15,455.00 L556.10,462.00 L558.70,470.50 L562.65,478.00 L566.70,485.00 L572.25,492.00 L577.00,501.70 L584.00,508.70 L590.00,516.20 L596.00,520.75 L608.00,523.80 L621.00,526.30 L631.80,527.20" fill="none" stroke="#86C9E3" stroke-width="0.55" stroke-linejoin="round" stroke-opacity="0.7" stroke-linecap="round"/>
<path d="M590.00,425.00 L584.70,431.30 L577.30,437.70 L566.70,444.00 L556.20,450.40 L553.50,455.00 L552.50,462.00 L555.10,470.50 L559.50,478.00 L564.00,485.00 L570.00,492.00 L577.00,499.00 L584.00,506.00 L590.00,513.50 L596.00,518.50 L608.00,522.00 L621.00,524.50 L631.80,526.30" fill="none" stroke="#86C9E3" stroke-width="1.1" stroke-linejoin="round" stroke-opacity="1.0" stroke-linecap="round"/>
<path d="M560.00,437.00 L550.00,441.00 L546.00,447.00 L547.00,458.00 L550.00,470.00 L554.00,480.00" fill="none" stroke="#86C9E3" stroke-width="0.45" stroke-linejoin="round" stroke-opacity="0.6" stroke-linecap="round"/>
<path d="M560.00,437.28 L550.42,441.00 L546.84,447.00 L547.84,458.00 L550.84,470.00 L554.70,480.00" fill="none" stroke="#86C9E3" stroke-width="0.45" stroke-linejoin="round" stroke-opacity="0.6" stroke-linecap="round"/>
<path d="M560.00,437.56 L550.84,441.00 L547.68,447.00 L548.68,458.00 L551.68,470.00 L555.40,480.00" fill="none" stroke="#86C9E3" stroke-width="0.45" stroke-linejoin="round" stroke-opacity="0.6" stroke-linecap="round"/>
<path d="M560.00,437.84 L551.26,441.00 L548.52,447.00 L549.52,458.00 L552.52,470.00 L556.10,480.00" fill="none" stroke="#86C9E3" stroke-width="0.45" stroke-linejoin="round" stroke-opacity="0.6" stroke-linecap="round"/>
<path d="M560.00,438.12 L551.68,441.00 L549.36,447.00 L550.36,458.00 L553.36,470.00 L556.80,480.00" fill="none" stroke="#86C9E3" stroke-width="0.45" stroke-linejoin="round" stroke-opacity="0.6" stroke-linecap="round"/>
<path d="M560.00,438.40 L552.10,441.00 L550.20,447.00 L551.20,458.00 L554.20,470.00 L557.50,480.00" fill="none" stroke="#86C9E3" stroke-width="0.45" stroke-linejoin="round" stroke-opacity="0.6" stroke-linecap="round"/>
<path d="M566.00,444.00 L570.00,455.00 L574.00,468.00 L578.00,480.00 L586.00,492.00" fill="none" stroke="#86C9E3" stroke-width="0.35" stroke-linejoin="round" stroke-opacity="0.3" stroke-linecap="round"/>
<path d="M568.00,444.00 L571.80,455.00 L575.60,468.00 L579.20,480.00 L586.60,492.00" fill="none" stroke="#86C9E3" stroke-width="0.35" stroke-linejoin="round" stroke-opacity="0.3" stroke-linecap="round"/>
<path d="M570.00,444.00 L573.60,455.00 L577.20,468.00 L580.40,480.00 L587.20,492.00" fill="none" stroke="#86C9E3" stroke-width="0.35" stroke-linejoin="round" stroke-opacity="0.3" stroke-linecap="round"/>
<path d="M572.00,444.00 L575.40,455.00 L578.80,468.00 L581.60,480.00 L587.80,492.00" fill="none" stroke="#86C9E3" stroke-width="0.35" stroke-linejoin="round" stroke-opacity="0.3" stroke-linecap="round"/>
<path d="M574.00,444.00 L577.20,455.00 L580.40,468.00 L582.80,480.00 L588.40,492.00" fill="none" stroke="#86C9E3" stroke-width="0.35" stroke-linejoin="round" stroke-opacity="0.3" stroke-linecap="round"/>
<path d="M576.00,444.00 L579.00,455.00 L582.00,468.00 L584.00,480.00 L589.00,492.00" fill="none" stroke="#86C9E3" stroke-width="0.35" stroke-linejoin="round" stroke-opacity="0.3" stroke-linecap="round"/>
<path d="M578.00,444.00 L580.80,455.00 L583.60,468.00 L585.20,480.00 L589.60,492.00" fill="none" stroke="#86C9E3" stroke-width="0.35" stroke-linejoin="round" stroke-opacity="0.3" stroke-linecap="round"/>
<path d="M580.00,444.00 L582.60,455.00 L585.20,468.00 L586.40,480.00 L590.20,492.00" fill="none" stroke="#86C9E3" stroke-width="0.35" stroke-linejoin="round" stroke-opacity="0.3" stroke-linecap="round"/>
<path d="M582.00,444.00 L584.40,455.00 L586.80,468.00 L587.60,480.00 L590.80,492.00" fill="none" stroke="#86C9E3" stroke-width="0.35" stroke-linejoin="round" stroke-opacity="0.3" stroke-linecap="round"/>
<path d="M584.00,444.00 L586.20,455.00 L588.40,468.00 L588.80,480.00 L591.40,492.00" fill="none" stroke="#86C9E3" stroke-width="0.35" stroke-linejoin="round" stroke-opacity="0.3" stroke-linecap="round"/>
<path d="M630.00,525.00 L634.00,529.00 L636.00,533.00 L634.00,538.00 L631.00,543.00" fill="none" stroke="#86C9E3" stroke-width="0.5" stroke-linejoin="round" stroke-opacity="0.85" stroke-linecap="round"/>
<path d="M630.00,525.00 L634.00,529.00 L636.20,533.00 L635.50,538.00 L633.50,543.00" fill="none" stroke="#86C9E3" stroke-width="0.5" stroke-linejoin="round" stroke-opacity="0.85" stroke-linecap="round"/>
<path d="M630.00,525.00 L634.00,529.00 L636.40,533.00 L637.00,538.00 L636.00,543.00" fill="none" stroke="#86C9E3" stroke-width="0.5" stroke-linejoin="round" stroke-opacity="0.85" stroke-linecap="round"/>
<path d="M630.00,525.00 L634.00,529.00 L636.60,533.00 L638.50,538.00 L638.50,543.00" fill="none" stroke="#86C9E3" stroke-width="0.5" stroke-linejoin="round" stroke-opacity="0.85" stroke-linecap="round"/>
<path d="M630.00,525.00 L634.00,529.00 L636.80,533.00 L640.00,538.00 L641.00,543.00" fill="none" stroke="#86C9E3" stroke-width="0.5" stroke-linejoin="round" stroke-opacity="0.85" stroke-linecap="round"/>
<path d="M630.00,525.00 L634.00,529.00 L637.00,533.00 L641.50,538.00 L643.50,543.00" fill="none" stroke="#86C9E3" stroke-width="0.5" stroke-linejoin="round" stroke-opacity="0.85" stroke-linecap="round"/>
<path d="M630.00,525.00 L634.00,529.00 L637.20,533.00 L643.00,538.00 L646.00,543.00" fill="none" stroke="#86C9E3" stroke-width="0.5" stroke-linejoin="round" stroke-opacity="0.85" stroke-linecap="round"/>
<path d="M630.00,525.00 L634.00,529.00 L637.40,533.00 L644.50,538.00 L648.50,543.00" fill="none" stroke="#86C9E3" stroke-width="0.5" stroke-linejoin="round" stroke-opacity="0.85" stroke-linecap="round"/>
<path d="M632.00,527.00 L638.00,531.00 L645.00,533.00 L652.00,531.00 L658.00,529.50 L663.00,529.60" fill="none" stroke="#86C9E3" stroke-width="0.9" stroke-linejoin="round" stroke-opacity="1.0" stroke-linecap="round"/>
<path d="M631.80,526.30 L635.70,531.50 L639.70,539.40 L641.00,543.00" fill="none" stroke="#86C9E3" stroke-width="1.2" stroke-linejoin="round" stroke-opacity="1.0" stroke-linecap="round"/>
<path d="M620.00,460.70 L626.00,455.00 L632.40,449.50 L638.50,442.10 L641.00,438.40 L647.20,437.80 L653.40,439.70 L658.30,440.90 L663.20,438.40 L666.90,432.20 L668.80,428.50 L664.50,427.30 L660.80,430.40" fill="none" stroke="#86C9E3" stroke-width="1.1" stroke-linejoin="round" stroke-opacity="1.0" stroke-linecap="round"/>
<path d="M648.40,439.70 L649.70,448.30 L654.60,452.00 L659.50,457.00 L659.50,465.60 L659.50,474.20 L663.20,479.20 L668.20,474.20" fill="none" stroke="#86C9E3" stroke-width="0.9" stroke-linejoin="round" stroke-opacity="1.0" stroke-linecap="round"/>
<path d="M628.00,440.00 L630.00,430.00 L634.00,420.00 L640.00,414.00 L646.00,420.00 L642.00,432.00" fill="none" stroke="#86C9E3" stroke-width="0.4" stroke-linejoin="round" stroke-opacity="0.35" stroke-linecap="round"/>
<path d="M630.00,440.00 L632.00,430.00 L635.00,420.00 L640.00,416.00 L646.00,420.00 L642.00,432.00" fill="none" stroke="#86C9E3" stroke-width="0.4" stroke-linejoin="round" stroke-opacity="0.35" stroke-linecap="round"/>
<path d="M632.00,440.00 L634.00,430.00 L636.00,420.00 L640.00,418.00 L646.00,420.00 L642.00,432.00" fill="none" stroke="#86C9E3" stroke-width="0.4" stroke-linejoin="round" stroke-opacity="0.35" stroke-linecap="round"/>
<path d="M634.00,440.00 L636.00,430.00 L637.00,420.00 L640.00,420.00 L646.00,420.00 L642.00,432.00" fill="none" stroke="#86C9E3" stroke-width="0.4" stroke-linejoin="round" stroke-opacity="0.35" stroke-linecap="round"/>
<path d="M600.00,470.00 L596.00,480.00 L590.00,493.00" fill="none" stroke="#86C9E3" stroke-width="0.4" stroke-linejoin="round" stroke-opacity="0.4" stroke-linecap="round"/>
<path d="M506.63,376.90 L592.62,376.90 L589.28,396.90 L589.79,402.00 L589.28,407.10 L587.77,411.20 L580.48,417.30 L573.30,421.40 L568.14,426.50 L561.87,429.60 L557.72,433.20 L557.72,422.40 L553.67,420.40 L550.53,416.30 L547.40,413.30 L544.36,408.10 L540.22,406.10 L536.07,404.10 L529.90,404.50 L529.79,398.40 L524.43,399.20 L521.80,407.20 L519.98,414.20 L520.28,419.90 L521.80,424.80 L524.23,431.90 L527.47,438.20 L532.83,444.10 L538.19,447.80 L544.57,452.50 L547.80,458.40 L548.81,463.60 L551.04,472.10 L553.67,478.50 L556.40,484.80 L557.41,486.90 L553.17,488.00 L548.81,484.80 L543.55,479.50 L538.19,474.20 L532.83,467.90 L528.48,461.50 L526.35,454.10 L522.11,446.70 L519.37,437.20 L506.63,431.90 Z M506.63,461.90 L519.37,468.40 L523.12,472.10 L529.59,476.30 L538.19,482.70 L545.68,489.00 L549.42,492.40 L549.42,498.00 L554.38,500.50 L558.22,506.70 L560.05,511.70 L561.97,517.90 L563.79,522.80 L564.40,529.00 L561.97,532.90 L559.44,530.90 L554.38,529.70 L549.42,525.30 L541.83,517.90 L535.56,510.40 L529.29,501.80 L524.23,494.30 L519.37,491.20 L506.63,483.90 Z M560.55,551.90 L561.56,534.10 L565.31,532.50 L569.45,532.80 L577.04,534.00 L585.74,535.20 L594.55,537.10 L602.74,537.70 L610.83,538.20 L618.93,539.10 L627.02,540.10 L635.12,540.50 L643.21,540.30 L653.33,540.50 L663.44,540.10 L675.58,540.40 L675.58,551.90 Z M643.61,441.50 L646.55,444.30 L650.09,448.50 L655.75,451.40 L659.30,454.20 L661.42,455.60 L658.59,458.40 L654.34,460.50 L650.80,462.60 L648.57,464.40 L645.84,470.70 L648.57,475.10 L650.29,479.50 L654.84,483.90 L655.65,485.70 L649.48,486.60 L646.75,488.40 L646.35,493.60 L647.26,495.40 L645.84,498.10 L641.19,501.40 L637.85,504.20 L638.76,508.20 L638.05,515.30 L632.38,518.10 L625.91,520.20 L625.20,518.10 L620.95,514.60 L615.18,515.30 L609.52,515.30 L606.69,511.70 L600.92,512.40 L595.96,511.70 L593.84,501.20 L589.49,496.90 L588.07,489.90 L586.65,484.20 L588.07,480.00 L592.42,479.30 L597.38,480.70 L600.92,477.90 L603.04,473.60 L609.52,471.50 L615.18,468.70 L620.95,461.70 L626.62,457.40 L632.38,453.20 L638.05,446.10 L642.30,441.90 Z M683.68,482.40 L667.29,483.40 L663.75,487.50 L661.93,491.90 L660.91,495.40 L660.21,498.90 L658.89,502.90 L656.87,507.90 L655.86,511.90 L657.37,515.90 L659.70,518.90 L660.41,521.90 L658.89,525.90 L658.39,528.90 L661.42,530.40 L666.48,530.70 L666.99,525.40 L665.97,518.40 L665.47,510.40 L670.02,510.40 L670.83,514.90 L672.55,518.40 L683.68,518.90 Z M641.49,438.40 L648.27,431.90 L655.35,424.40 L662.43,417.40 L669.01,413.90 L670.53,415.40 L663.95,420.40 L656.87,427.40 L649.79,434.90 L642.70,439.90 Z M562.78,503.40 L566.82,504.40 L570.87,508.40 L571.88,512.40 L568.85,512.70 L565.31,508.90 L562.57,505.90 Z M577.65,509.20 L582.00,509.50 L582.71,513.40 L578.96,514.50 L577.45,512.10 Z M520.28,505.40 L522.00,505.70 L528.38,513.40 L527.67,514.70 L525.34,513.40 L520.59,507.90 Z " fill="#F2F2F2" stroke="#404040" stroke-width="0.5"/>
<g clip-path="url(#lande)">
<line x1="518.20" y1="386.90" x2="518.20" y2="541.60" stroke="#CFCFCF" stroke-width="0.6"/>
<line x1="538.90" y1="386.90" x2="538.90" y2="541.60" stroke="#CFCFCF" stroke-width="0.6"/>
<line x1="559.60" y1="386.90" x2="559.60" y2="541.60" stroke="#CFCFCF" stroke-width="0.6"/>
<line x1="580.30" y1="386.90" x2="580.30" y2="541.60" stroke="#CFCFCF" stroke-width="0.6"/>
<line x1="601.00" y1="386.90" x2="601.00" y2="541.60" stroke="#CFCFCF" stroke-width="0.6"/>
<line x1="621.70" y1="386.90" x2="621.70" y2="541.60" stroke="#CFCFCF" stroke-width="0.6"/>
<line x1="642.40" y1="386.90" x2="642.40" y2="541.60" stroke="#CFCFCF" stroke-width="0.6"/>
<line x1="663.10" y1="386.90" x2="663.10" y2="541.60" stroke="#CFCFCF" stroke-width="0.6"/>
<line x1="516.50" y1="533.46" x2="672.60" y2="533.46" stroke="#CFCFCF" stroke-width="0.6"/>
<line x1="516.50" y1="512.73" x2="672.60" y2="512.73" stroke="#CFCFCF" stroke-width="0.6"/>
<line x1="516.50" y1="492.00" x2="672.60" y2="492.00" stroke="#CFCFCF" stroke-width="0.6"/>
<line x1="516.50" y1="471.27" x2="672.60" y2="471.27" stroke="#CFCFCF" stroke-width="0.6"/>
<line x1="516.50" y1="450.54" x2="672.60" y2="450.54" stroke="#CFCFCF" stroke-width="0.6"/>
<line x1="516.50" y1="429.81" x2="672.60" y2="429.81" stroke="#CFCFCF" stroke-width="0.6"/>
<line x1="516.50" y1="409.08" x2="672.60" y2="409.08" stroke="#CFCFCF" stroke-width="0.6"/>
<line x1="516.50" y1="388.35" x2="672.60" y2="388.35" stroke="#CFCFCF" stroke-width="0.6"/>
</g>
<path d="M665.97,490.40 L669.51,489.40 L675.58,488.90 L675.58,496.90 L670.53,498.40 L666.99,496.40 L665.27,493.40 Z" fill="#FFFFFF" stroke="#5a5a5a" stroke-width="0.45"/>
</g>
<g clip-path="url(#clipe)">
<g fill="#F542F0"><circle cx="601.4" cy="476.4" r="0.9"/><circle cx="602.9" cy="473.8" r="0.9"/><circle cx="605.1" cy="472.8" r="0.9"/><circle cx="607.4" cy="472.1" r="0.9"/><circle cx="610.0" cy="471.0" r="0.9"/><circle cx="612.6" cy="469.5" r="0.9"/><circle cx="615.3" cy="468.8" r="0.9"/><circle cx="616.8" cy="466.1" r="0.9"/><circle cx="619.0" cy="464.5" r="0.9"/><circle cx="620.7" cy="461.9" r="0.9"/><circle cx="623.2" cy="459.9" r="0.9"/><circle cx="625.4" cy="458.4" r="0.9"/><circle cx="627.0" cy="456.6" r="0.9"/><circle cx="629.4" cy="455.5" r="0.9"/><circle cx="631.6" cy="453.7" r="0.9"/><circle cx="633.8" cy="451.4" r="0.9"/><circle cx="635.5" cy="449.0" r="0.9"/><circle cx="636.8" cy="447.0" r="0.9"/><circle cx="594.8" cy="479.9" r="0.9"/><circle cx="596.2" cy="479.8" r="0.9"/><circle cx="597.9" cy="479.4" r="0.9"/><circle cx="625.5" cy="517.6" r="0.9"/><circle cx="626.7" cy="517.7" r="0.9"/><circle cx="628.5" cy="518.1" r="0.9"/><circle cx="630.2" cy="518.0" r="0.9"/><circle cx="631.9" cy="518.1" r="0.9"/><circle cx="638.4" cy="504.7" r="0.9"/><circle cx="639.7" cy="502.7" r="0.9"/><circle cx="641.2" cy="501.1" r="0.9"/><circle cx="643.1" cy="499.2" r="0.9"/><circle cx="659.9" cy="529.5" r="0.9"/><circle cx="661.5" cy="529.9" r="0.9"/><circle cx="663.0" cy="530.2" r="0.9"/><circle cx="664.9" cy="530.8" r="0.9"/><circle cx="659.9" cy="519.4" r="0.9"/><circle cx="660.2" cy="521.9" r="0.9"/><circle cx="530.9" cy="404.1" r="0.9"/><circle cx="522.1" cy="424.5" r="0.9"/><circle cx="521.4" cy="425.3" r="0.9"/><circle cx="558.7" cy="424.7" r="0.9"/><circle cx="579.7" cy="417.7" r="0.9"/><circle cx="647.3" cy="422.9" r="0.9"/></g>
<g fill="#2A46E8"><circle cx="539.5" cy="425.9" r="0.75"/><circle cx="531.1" cy="426.3" r="0.75"/><circle cx="543.0" cy="429.8" r="0.75"/><circle cx="546.5" cy="421.3" r="0.75"/><circle cx="537.7" cy="425.9" r="0.75"/><circle cx="530.4" cy="423.4" r="0.75"/><circle cx="533.3" cy="419.3" r="0.75"/><circle cx="531.1" cy="427.1" r="0.75"/><circle cx="532.5" cy="420.9" r="0.75"/><circle cx="537.8" cy="428.4" r="0.75"/><circle cx="531.5" cy="423.3" r="0.75"/><circle cx="541.0" cy="428.5" r="0.75"/><circle cx="565.8" cy="539.7" r="0.75"/><circle cx="572.3" cy="539.6" r="0.75"/><circle cx="579.0" cy="540.0" r="0.75"/><circle cx="636.0" cy="539.7" r="0.75"/><circle cx="636.9" cy="539.7" r="0.75"/><circle cx="638.2" cy="539.9" r="0.75"/><circle cx="639.7" cy="539.8" r="0.75"/><circle cx="640.7" cy="539.9" r="0.75"/><circle cx="642.2" cy="539.9" r="0.75"/><circle cx="643.8" cy="540.0" r="0.75"/><circle cx="644.9" cy="540.0" r="0.75"/><circle cx="646.3" cy="539.6" r="0.75"/><circle cx="647.7" cy="540.1" r="0.75"/><circle cx="649.0" cy="540.1" r="0.75"/><circle cx="650.0" cy="539.8" r="0.75"/><circle cx="651.1" cy="540.0" r="0.75"/><circle cx="652.4" cy="539.6" r="0.75"/><circle cx="670.0" cy="461.9" r="0.75"/><circle cx="670.0" cy="463.9" r="0.75"/><circle cx="616.9" cy="529.9" r="0.75"/><circle cx="621.0" cy="531.9" r="0.75"/><circle cx="597.7" cy="525.9" r="0.75"/><circle cx="602.7" cy="527.9" r="0.75"/></g>
<g fill="#F26A1B"><circle cx="525.3" cy="399.4" r="1.1"/><circle cx="527.9" cy="400.4" r="1.1"/><circle cx="531.9" cy="404.9" r="1.1"/><circle cx="537.0" cy="408.4" r="1.1"/><circle cx="539.0" cy="411.9" r="1.1"/><circle cx="543.0" cy="417.9" r="1.1"/><circle cx="546.1" cy="420.4" r="1.1"/><circle cx="520.3" cy="418.1" r="1.1"/><circle cx="520.1" cy="419.9" r="1.1"/><circle cx="521.8" cy="426.9" r="1.1"/><circle cx="523.3" cy="430.4" r="1.1"/><circle cx="523.8" cy="431.4" r="1.1"/><circle cx="539.0" cy="421.9" r="1.1"/><circle cx="542.0" cy="421.4" r="1.1"/><circle cx="538.5" cy="423.9" r="1.1"/><circle cx="565.3" cy="425.4" r="1.1"/><circle cx="578.5" cy="428.9" r="1.1"/><circle cx="588.6" cy="436.9" r="1.1"/><circle cx="605.8" cy="437.2" r="1.1"/><circle cx="558.0" cy="475.1" r="1.1"/><circle cx="562.8" cy="474.5" r="1.1"/><circle cx="563.8" cy="475.5" r="1.1"/><circle cx="566.8" cy="485.9" r="1.1"/><circle cx="568.3" cy="487.9" r="1.1"/><circle cx="568.8" cy="490.9" r="1.1"/><circle cx="573.4" cy="497.4" r="1.1"/><circle cx="572.4" cy="499.9" r="1.1"/><circle cx="584.5" cy="511.9" r="1.1"/><circle cx="586.6" cy="509.9" r="1.1"/><circle cx="578.5" cy="510.2" r="1.1"/><circle cx="562.3" cy="534.4" r="1.1"/><circle cx="568.3" cy="529.9" r="1.1"/><circle cx="644.2" cy="436.9" r="1.1"/><circle cx="646.2" cy="433.4" r="1.1"/><circle cx="648.3" cy="431.4" r="1.1"/><circle cx="662.4" cy="427.4" r="1.1"/><circle cx="663.9" cy="427.4" r="1.1"/><circle cx="648.3" cy="468.9" r="1.1"/><circle cx="652.8" cy="476.9" r="1.1"/><circle cx="650.3" cy="483.9" r="1.1"/><circle cx="657.9" cy="487.9" r="1.1"/><circle cx="646.2" cy="518.4" r="1.1"/><circle cx="641.2" cy="524.9" r="1.1"/><circle cx="657.4" cy="521.9" r="1.1"/><circle cx="661.4" cy="517.4" r="1.1"/><circle cx="665.5" cy="529.4" r="1.1"/><circle cx="668.0" cy="518.4" r="1.1"/><circle cx="649.3" cy="513.9" r="1.1"/><circle cx="633.1" cy="521.2" r="1.1"/><circle cx="636.1" cy="518.9" r="1.1"/></g>
</g>
<rect x="516.5" y="386.9" width="156.10000000000002" height="154.70000000000005" fill="none" stroke="#777" stroke-width="0.9"/>
<text x="524.20" y="397.30" font-size="8.7" fill="#222">Winter</text>
<text transform="translate(572.6,417.5) rotate(-31.3)" font-size="7.5" text-anchor="middle" fill="#555">Vietnam</text>
<text transform="translate(534.7,460.9) rotate(58.3)" font-size="7.3" text-anchor="middle" fill="#555">Malay Peninsula</text>
<text x="617.71" y="495.70" font-size="7.3" text-anchor="middle" fill="#666">Borneo</text>
<text x="656.40" y="514.00" font-size="7.0" text-anchor="middle" fill="#666">Sulawesi</text>
<text x="509.90" y="411.88" font-size="9.0" text-anchor="end" fill="#222">12°</text>
<text x="509.90" y="432.61" font-size="9.0" text-anchor="end" fill="#222">9°</text>
<text x="509.90" y="453.34" font-size="9.0" text-anchor="end" fill="#222">6°</text>
<text x="509.90" y="474.07" font-size="9.0" text-anchor="end" fill="#222">3°</text>
<text x="509.90" y="494.80" font-size="9.0" text-anchor="end" fill="#222">0°</text>
<text x="509.90" y="515.53" font-size="9.0" text-anchor="end" fill="#222">-3°</text>
<text x="509.90" y="536.26" font-size="9.0" text-anchor="end" fill="#222">-6°</text>
<text x="540.90" y="554.00" font-size="9.1" text-anchor="middle" fill="#222">102°</text>
<text x="582.70" y="554.00" font-size="9.1" text-anchor="middle" fill="#222">108°</text>
<text x="623.80" y="554.00" font-size="9.1" text-anchor="middle" fill="#222">114°</text>
<text x="665.10" y="554.00" font-size="9.1" text-anchor="middle" fill="#222">120°</text>
<text x="600.00" y="564.50" font-size="10.7" text-anchor="middle" fill="#222">Longitude</text>
<text transform="translate(493.6,471.9) rotate(-90)" font-size="10.5" text-anchor="middle" fill="#222">Latitude</text>
<rect x="605.6" y="387.3" width="67.0" height="24.2" fill="#fff" stroke="#555" stroke-width="0.7"/>
<circle cx="614.4" cy="392.1" r="2.45" fill="#F542F0"/>
<text x="622.40" y="394.20" font-size="6.3" fill="#333">initial (22000)</text>
<circle cx="614.4" cy="399.6" r="2.45" fill="#2A46E8"/>
<text x="622.40" y="401.70" font-size="6.3" fill="#333">active (1310)</text>
<circle cx="614.4" cy="407.1" r="2.45" fill="#F26A1B"/>
<text x="622.40" y="409.20" font-size="6.3" fill="#333">stranded (20690)</text>
</svg>
</body></html>
